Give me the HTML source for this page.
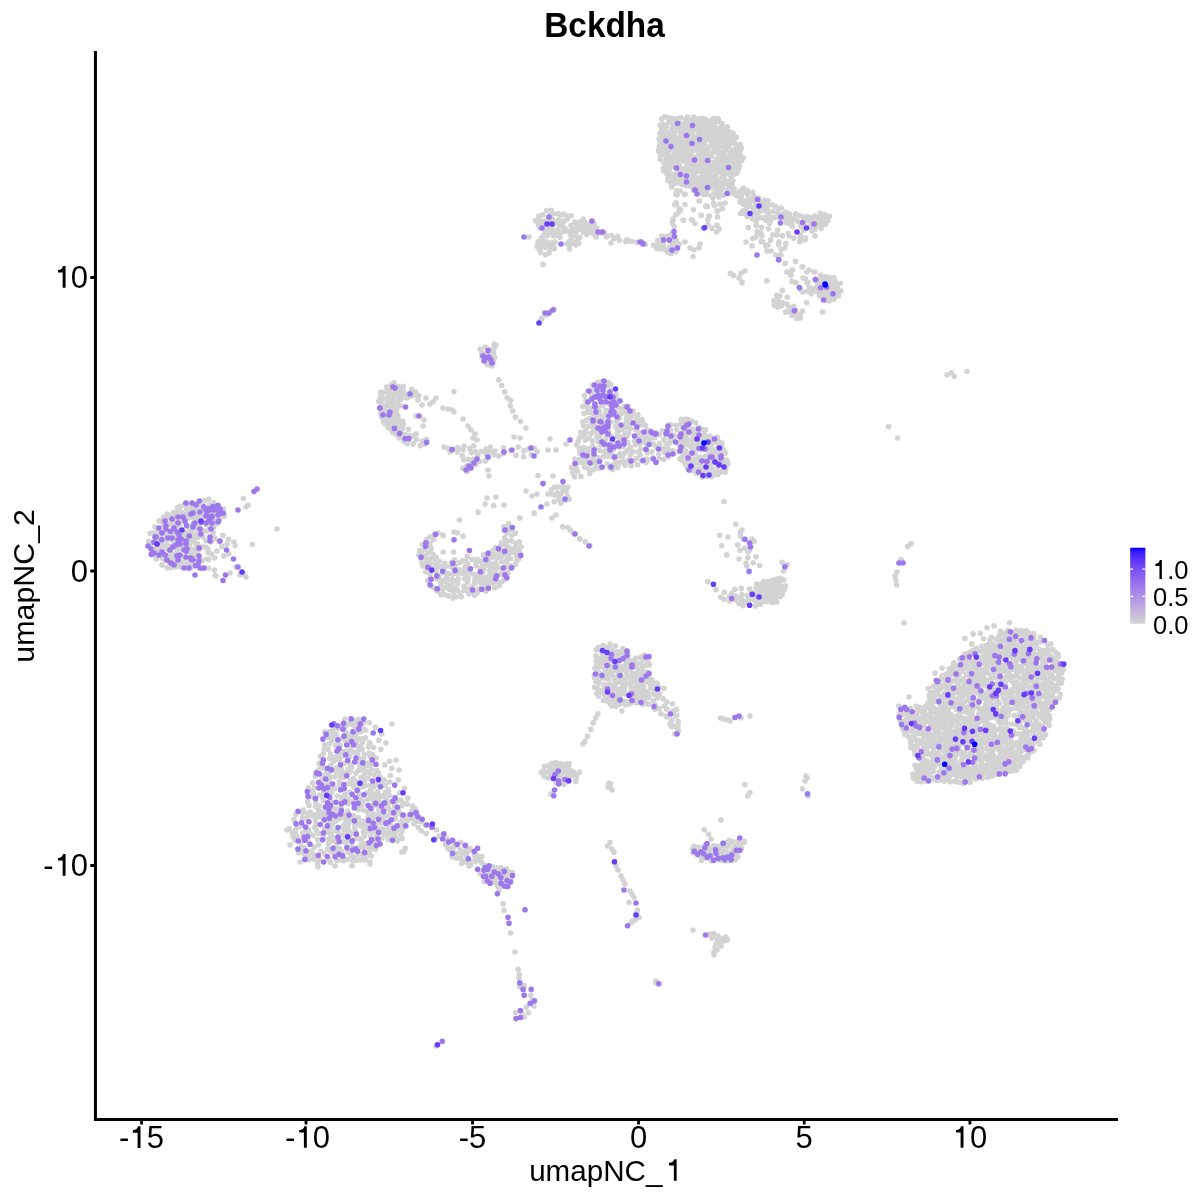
<!DOCTYPE html>
<html><head><meta charset="utf-8"><style>
html,body{margin:0;padding:0;background:#fff;width:1200px;height:1200px;overflow:hidden}
svg{display:block;will-change:transform}
text{font-family:"Liberation Sans",sans-serif;fill:#000}
</style></head><body>
<svg width="1200" height="1200" viewBox="0 0 1200 1200">
<defs><linearGradient id="lg" x1="0" y1="1" x2="0" y2="0"><stop offset="0.000" stop-color="#d3d3d3"/><stop offset="0.050" stop-color="#cfcad6"/><stop offset="0.100" stop-color="#cac0d9"/><stop offset="0.150" stop-color="#c6b7db"/><stop offset="0.200" stop-color="#c1aede"/><stop offset="0.250" stop-color="#bba5e0"/><stop offset="0.300" stop-color="#b69ce3"/><stop offset="0.350" stop-color="#b093e5"/><stop offset="0.400" stop-color="#aa89e7"/><stop offset="0.450" stop-color="#a480ea"/><stop offset="0.500" stop-color="#9d77ec"/><stop offset="0.550" stop-color="#966eee"/><stop offset="0.600" stop-color="#8e65f0"/><stop offset="0.650" stop-color="#855bf2"/><stop offset="0.700" stop-color="#7c51f4"/><stop offset="0.750" stop-color="#7248f6"/><stop offset="0.800" stop-color="#673df8"/><stop offset="0.850" stop-color="#5932fa"/><stop offset="0.900" stop-color="#4926fb"/><stop offset="0.950" stop-color="#3318fd"/><stop offset="1.000" stop-color="#0000ff"/></linearGradient></defs>
<g fill="none" stroke-linecap="round" stroke-width="5.6"><path stroke="#d3d3d3" d="M729.0 140.4h0M689.7 131.5h0M706.7 128.7h0M668.7 151.8h0M705.6 145.2h0M701.3 127.6h0M719.8 131.1h0M687.4 117.0h0M732.9 180.5h0M673.4 123.5h0M693.6 190.3h0M707.7 177.6h0M678.0 159.5h0M719.0 185.1h0M727.4 134.7h0M733.1 133.4h0M727.0 162.2h0M674.0 165.0h0M661.6 129.0h0M670.9 134.5h0M685.8 119.2h0M719.2 121.7h0M725.8 180.7h0M689.6 172.7h0M723.5 155.9h0M663.3 168.2h0M686.0 166.9h0M675.3 180.4h0M718.1 162.3h0M664.9 129.0h0M672.1 139.5h0M704.2 159.2h0M700.7 130.7h0M710.2 182.9h0M666.2 157.9h0M692.9 182.2h0M740.1 150.4h0M660.3 143.1h0M692.0 130.1h0M716.5 159.1h0M679.4 150.1h0M717.5 142.6h0M663.8 154.1h0M674.8 167.8h0M675.4 126.5h0M734.9 143.1h0M683.1 160.8h0M717.6 172.0h0M694.7 145.9h0M702.4 163.8h0M712.1 120.8h0M717.0 149.2h0M696.6 137.5h0M680.8 117.5h0M716.1 168.2h0M709.8 131.0h0M664.5 140.6h0M726.1 144.0h0M705.3 170.9h0M693.3 159.5h0M724.9 127.9h0M693.7 117.1h0M715.0 188.8h0M688.4 184.4h0M698.4 118.9h0M684.9 183.1h0M668.8 163.1h0M662.9 124.3h0M684.6 133.4h0M663.1 133.7h0M677.1 178.3h0M735.4 162.1h0M738.1 169.4h0M671.7 177.2h0M724.1 162.6h0M668.5 137.5h0M677.4 146.5h0M732.4 192.7h0M667.3 117.6h0M689.6 149.0h0M741.4 147.7h0M726.6 168.5h0M702.4 176.2h0M735.3 174.0h0M660.4 148.8h0M676.5 162.7h0M679.5 122.8h0M706.5 182.1h0M669.0 166.8h0M684.4 139.3h0M713.6 176.9h0M743.2 157.7h0M694.3 174.8h0M680.9 141.8h0M693.5 148.4h0M666.0 148.1h0M677.8 167.8h0M716.4 192.6h0M691.3 141.5h0M711.9 141.9h0M661.4 135.8h0M709.6 153.9h0M669.8 180.2h0M706.8 191.5h0M722.9 134.6h0M701.7 156.8h0M729.2 165.6h0M717.0 179.1h0M663.5 171.0h0M708.5 170.5h0M710.9 195.7h0M713.2 135.0h0M666.6 173.2h0M670.1 131.7h0M670.0 118.0h0M690.5 164.3h0M700.3 123.9h0M722.3 178.0h0M687.4 133.0h0M674.8 143.2h0M698.6 161.9h0M705.9 126.2h0M680.0 174.7h0M702.5 146.3h0M713.1 129.4h0M727.1 130.7h0M715.0 164.9h0M726.5 150.0h0M696.6 125.3h0M680.2 126.2h0M702.8 183.5h0M721.8 169.2h0M727.1 172.1h0M726.0 165.1h0M680.6 146.8h0M698.8 165.0h0M688.1 158.1h0M726.3 184.0h0M669.4 169.6h0M736.3 137.2h0M710.3 134.1h0M713.7 123.5h0M696.2 120.9h0M686.2 154.9h0M703.0 187.5h0M693.3 127.3h0M716.9 145.4h0M738.4 148.2h0M740.5 155.6h0M728.8 146.3h0M678.6 137.8h0M660.1 125.3h0M674.2 149.7h0M694.2 143.2h0M691.5 138.2h0M719.3 194.3h0M736.0 146.1h0M714.4 184.0h0M702.5 151.9h0M672.2 128.1h0M738.9 163.2h0M693.4 185.9h0M707.2 122.6h0M721.0 163.8h0M716.7 152.2h0M685.3 144.0h0M731.2 177.6h0M723.0 195.2h0M718.9 196.9h0M666.5 126.4h0M668.5 175.4h0M686.2 151.9h0M714.2 144.7h0M691.2 151.3h0M713.2 162.3h0M687.3 181.4h0M680.8 156.4h0M727.7 190.0h0M709.1 180.3h0M685.9 185.7h0M708.6 162.2h0M675.3 174.1h0M734.2 188.8h0M735.8 154.8h0M728.5 193.4h0M706.8 150.7h0M706.0 194.2h0M714.3 149.0h0M716.1 121.1h0M658.5 150.9h0M664.1 163.0h0M682.3 123.7h0M703.9 122.8h0M719.7 166.5h0M691.2 157.7h0M722.8 186.4h0M667.9 178.4h0M664.4 116.8h0M698.5 184.7h0M737.0 151.0h0M696.2 141.4h0M731.2 136.4h0M681.8 138.1h0M718.1 182.0h0M665.5 137.0h0M703.9 142.3h0M722.9 145.6h0M679.4 164.7h0M696.1 168.9h0M688.9 175.3h0M721.7 158.7h0M718.4 140.1h0M669.4 141.1h0M695.6 150.3h0M730.1 132.4h0M702.0 137.7h0M712.4 171.3h0M725.6 157.5h0M680.7 132.9h0M722.7 131.2h0M705.4 119.2h0M684.5 157.4h0M672.8 118.6h0M696.0 172.1h0M708.9 167.0h0M714.6 137.3h0M732.8 140.0h0M721.9 123.6h0M732.2 184.5h0M670.8 148.4h0M689.2 122.0h0M688.2 127.5h0M681.7 184.2h0M731.3 170.2h0M737.6 195.9h0M674.5 133.4h0M724.2 152.5h0M681.2 181.6h0M667.0 143.3h0M729.4 187.0h0M661.7 118.9h0M675.2 159.4h0M685.1 147.7h0M676.9 151.8h0M676.4 119.0h0M683.3 175.9h0M701.0 120.8h0M701.1 143.8h0M691.6 174.9h0M703.3 190.7h0M680.9 153.4h0M733.0 150.1h0M703.0 132.7h0M686.2 141.4h0M732.0 155.8h0M664.4 145.0h0M668.7 122.5h0M721.3 172.7h0M704.9 148.8h0M697.8 155.9h0M702.5 118.3h0M667.6 134.9h0M733.6 152.7h0M707.4 132.2h0M660.5 159.2h0M674.3 154.5h0M676.3 156.7h0M704.8 138.4h0M699.7 177.5h0M739.5 166.3h0M705.3 184.8h0M696.4 186.7h0M695.8 129.5h0M718.1 118.9h0M721.7 141.6h0M665.7 169.3h0M733.6 166.9h0M698.3 149.1h0M736.2 165.2h0M725.2 138.9h0M730.6 143.1h0M695.7 181.4h0M702.7 173.3h0M695.6 178.2h0M716.4 175.8h0M701.4 140.4h0M714.6 126.4h0M663.2 131.1h0M712.0 174.3h0M707.2 135.5h0M694.2 164.1h0M691.0 155.0h0M707.1 174.7h0M706.3 156.5h0M671.0 174.4h0M698.7 192.1h0M699.1 171.2h0M718.0 190.2h0M666.4 153.7h0M685.5 122.9h0M708.0 139.5h0M672.4 160.7h0M689.6 170.0h0M721.9 189.2h0M681.5 169.1h0M719.4 128.3h0M663.9 150.0h0M698.6 188.7h0M668.8 154.8h0M709.2 120.7h0M737.4 172.4h0M720.2 191.8h0M709.2 126.6h0M692.4 162.2h0M732.9 160.3h0M729.6 174.6h0M701.0 180.3h0M696.5 190.7h0M718.6 154.5h0M693.0 171.4h0M724.2 175.6h0M660.6 155.8h0M713.6 168.9h0M687.4 136.8h0M737.3 158.6h0M719.6 135.3h0M676.1 138.7h0M729.1 181.9h0M682.4 130.0h0M698.4 143.5h0M713.9 193.5h0M690.0 167.2h0M701.2 160.3h0M673.4 137.2h0M680.0 177.4h0M703.1 167.9h0M692.0 179.2h0M685.3 129.4h0M689.6 145.0h0M712.1 166.4h0M687.0 161.7h0M712.4 186.6h0M708.2 148.0h0M732.7 174.4h0M722.1 127.1h0M698.5 146.2h0M692.1 123.5h0M710.8 137.6h0M725.1 147.9h0M660.1 133.3h0M683.4 152.1h0M682.4 135.2h0M707.0 164.5h0M669.8 144.8h0M704.9 162.0h0M713.4 118.5h0M672.2 156.3h0M659.2 138.8h0M677.8 130.2h0M713.0 197.8h0M686.8 177.7h0M675.7 183.3h0M685.2 126.7h0M669.0 157.7h0M728.2 137.5h0M713.0 151.7h0M691.9 119.4h0M740.1 144.5h0M686.2 172.3h0M705.3 188.9h0M699.9 154.3h0M715.3 132.0h0M692.4 134.1h0M728.8 158.7h0M690.7 185.9h0M729.4 156.1h0M734.4 169.4h0M679.2 170.3h0M732.1 163.8h0M666.8 165.2h0M711.4 156.2h0M721.5 139.0h0M734.9 194.5h0M730.2 152.2h0M689.5 178.5h0M741.6 160.7h0M731.2 189.6h0M721.3 152.3h0M695.5 161.4h0M719.4 147.1h0M711.3 145.9h0M695.6 157.4h0M712.5 181.0h0M690.0 181.4h0M699.9 167.6h0M703.5 179.4h0M693.5 167.6h0M705.3 153.4h0M678.6 144.1h0M724.2 171.3h0M673.1 183.6h0M708.8 157.9h0M665.8 132.4h0M684.0 178.6h0M703.0 194.4h0M659.3 146.3h0M698.4 134.4h0M727.4 126.8h0M709.6 187.9h0M722.4 166.4h0M674.4 121.0h0M714.4 140.1h0M684.4 169.1h0M678.1 182.0h0M722.9 182.7h0M673.3 146.2h0M660.6 152.5h0M704.3 135.7h0M716.4 129.5h0M763.1 204.2h0M784.6 218.6h0M767.3 208.0h0M759.3 218.1h0M754.0 195.8h0M747.5 194.2h0M748.9 198.5h0M781.2 208.0h0M767.9 200.7h0M737.5 193.5h0M775.5 206.3h0M779.7 218.0h0M747.4 190.6h0M774.2 217.6h0M747.2 216.6h0M757.9 207.4h0M745.3 201.2h0M760.6 201.2h0M742.8 211.0h0M748.7 206.3h0M741.7 194.3h0M759.0 211.9h0M785.6 212.1h0M743.1 188.0h0M751.6 215.1h0M742.0 198.7h0M772.3 204.7h0M753.3 211.7h0M778.3 209.1h0M748.8 213.2h0M756.2 220.8h0M743.3 204.2h0M767.7 204.5h0M754.9 200.9h0M758.6 198.0h0M744.7 213.6h0M755.8 205.0h0M746.3 209.1h0M752.7 219.0h0M764.8 200.3h0M762.4 217.8h0M739.2 196.9h0M765.9 220.3h0M749.6 202.9h0M772.8 211.3h0M757.4 215.3h0M769.7 216.6h0M752.7 192.2h0M763.5 207.3h0M768.0 212.7h0M753.4 207.3h0M740.5 213.5h0M766.2 217.3h0M743.8 191.8h0M777.5 213.6h0M763.7 210.6h0M770.2 221.3h0M782.3 214.2h0M740.2 202.0h0M752.7 198.6h0M739.9 191.1h0M787.1 219.4h0M807.7 216.6h0M789.6 213.9h0M799.6 215.8h0M822.5 220.0h0M821.1 228.3h0M788.2 223.2h0M800.5 226.3h0M808.2 220.8h0M794.5 218.7h0M803.7 220.7h0M795.6 214.1h0M813.1 222.4h0M825.6 224.1h0M804.5 225.7h0M803.6 217.0h0M792.1 225.9h0M797.5 221.4h0M814.9 229.6h0M816.6 224.5h0M811.5 217.9h0M803.5 229.9h0M826.7 217.7h0M822.0 216.4h0M785.8 213.6h0M791.7 221.9h0M810.7 226.2h0M790.7 218.1h0M680.0 191.0h0M677.0 195.0h0M685.0 194.0h0M676.5 204.0h0M685.0 204.5h0M699.0 201.0h0M706.0 206.0h0M713.5 203.0h0M718.0 211.0h0M709.0 216.0h0M678.0 213.0h0M673.0 219.0h0M683.0 220.0h0M691.5 219.5h0M720.0 204.0h0M725.0 203.0h0M746.0 242.0h0M752.0 246.0h0M756.0 237.0h0M761.0 233.0h0M763.0 242.0h0M768.0 245.0h0M767.0 251.0h0M771.0 251.0h0M776.0 255.0h0M781.0 255.0h0M778.5 244.5h0M785.0 248.0h0M777.0 235.0h0M785.0 263.5h0M795.5 261.5h0M802.0 267.0h0M809.0 270.0h0M814.0 272.0h0M787.0 272.0h0M792.0 270.0h0M791.0 275.0h0M803.0 278.0h0M808.0 282.0h0M794.0 282.0h0M767.0 281.0h0M745.0 271.0h0M742.0 282.0h0M789.0 236.0h0M800.0 238.0h0M805.0 240.0h0M815.0 236.0h0M812.0 231.0h0M829.1 291.0h0M833.8 277.8h0M837.2 289.0h0M826.1 282.4h0M820.5 275.4h0M824.5 295.1h0M816.5 291.5h0M836.8 293.5h0M830.5 285.6h0M817.4 286.2h0M821.9 293.0h0M829.3 301.0h0M824.8 276.7h0M826.3 300.2h0M831.7 288.9h0M832.3 295.5h0M825.4 285.4h0M840.9 291.0h0M827.1 288.2h0M828.5 294.7h0M819.4 295.7h0M834.0 283.8h0M840.3 283.3h0M820.7 284.1h0M819.6 289.1h0M836.1 286.3h0M823.1 298.2h0M817.5 282.3h0M830.6 282.2h0M834.5 297.9h0M833.6 291.3h0M823.8 289.6h0M828.8 277.2h0M828.6 280.1h0M833.8 280.9h0M838.6 295.7h0M820.1 279.8h0M807.3 291.3h0M813.0 288.6h0M815.4 291.3h0M802.7 292.1h0M809.2 287.1h0M811.2 293.6h0M800.7 289.2h0M777.7 307.2h0M779.8 296.1h0M800.4 314.0h0M785.7 311.9h0M792.2 315.4h0M792.4 310.3h0M781.3 306.0h0M774.3 305.4h0M789.5 307.5h0M778.2 300.4h0M782.4 302.5h0M797.0 318.5h0M796.2 315.2h0M787.0 304.4h0M789.7 312.0h0M774.1 300.9h0M802.4 311.1h0M795.8 309.8h0M776.6 295.4h0M777.1 303.4h0M793.7 306.3h0M800.2 317.9h0M730.4 273.4h0M733.5 275.4h0M739.1 277.9h0M741.0 273.2h0M742.0 282.7h0M766.7 280.7h0M782.4 290.4h0M787.3 297.3h0M806.7 302.7h0M822.7 312.0h0M786.7 272.0h0M792.7 270.0h0M790.7 275.3h0M792.0 281.3h0M796.0 282.7h0M795.3 261.3h0M785.3 263.3h0M802.7 266.7h0M806.7 272.0h0M814.7 272.0h0M805.3 278.7h0M807.3 282.7h0M810.7 290.7h0M667.9 180.6h0M671.2 185.0h0M671.8 187.0h0M676.8 191.0h0M675.9 194.3h0M676.6 194.7h0M676.1 202.7h0M674.8 204.7h0M679.3 208.5h0M680.6 209.9h0M675.8 214.7h0M673.2 219.8h0M672.3 223.1h0M674.1 226.5h0M668.6 240.1h0M675.7 251.7h0M659.0 244.5h0M653.6 245.1h0M674.2 244.8h0M661.7 236.0h0M657.7 240.6h0M668.0 252.3h0M666.5 236.4h0M665.4 249.8h0M676.1 240.2h0M673.1 249.1h0M663.2 243.1h0M671.2 234.2h0M663.6 246.6h0M669.7 247.3h0M671.0 253.6h0M677.1 248.7h0M674.2 237.2h0M663.7 238.9h0M679.4 244.0h0M660.9 249.0h0M670.8 242.6h0M656.8 248.2h0M685.0 242.0h0M690.0 248.0h0M694.0 250.0h0M700.0 244.0h0M699.0 248.0h0M693.0 256.5h0M684.5 194.5h0M685.0 204.5h0M683.5 220.5h0M692.0 220.0h0M709.5 216.0h0M708.0 225.0h0M699.5 201.0h0M706.0 206.5h0M713.5 203.0h0M717.0 211.0h0M717.0 225.0h0M716.5 232.0h0M602.4 232.2h0M604.5 232.9h0M606.7 235.7h0M611.7 235.6h0M613.9 238.8h0M617.7 236.4h0M619.5 240.2h0M625.7 241.6h0M626.9 239.5h0M628.2 240.7h0M631.6 241.3h0M636.9 242.3h0M641.8 242.7h0M645.3 244.2h0M611.0 243.0h0M551.1 210.2h0M550.6 225.8h0M567.2 216.0h0M545.6 224.3h0M553.2 214.0h0M580.5 221.8h0M563.6 231.5h0M593.7 234.2h0M554.9 241.8h0M557.8 229.7h0M543.7 235.4h0M538.8 216.3h0M546.7 210.5h0M575.8 245.0h0M545.7 247.4h0M542.3 225.3h0M552.0 229.2h0M549.8 232.2h0M574.9 221.7h0M569.5 248.9h0M576.2 231.6h0M567.2 218.9h0M548.4 217.9h0M558.5 220.0h0M591.1 223.2h0M576.2 228.2h0M589.7 232.6h0M548.6 246.1h0M540.7 252.6h0M545.8 254.8h0M564.0 221.0h0M571.2 215.7h0M553.0 244.8h0M585.3 222.8h0M592.4 229.1h0M606.3 236.7h0M549.8 242.8h0M556.3 234.9h0M569.4 241.4h0M587.7 224.6h0M580.5 226.5h0M583.5 232.2h0M540.9 247.4h0M600.6 232.8h0M547.6 229.6h0M560.1 232.9h0M583.3 219.1h0M553.3 236.0h0M554.0 224.6h0M596.3 236.9h0M542.0 240.8h0M544.3 221.0h0M572.0 229.3h0M545.2 241.3h0M541.3 237.7h0M547.4 235.6h0M577.9 239.3h0M542.9 214.7h0M535.4 220.6h0M558.1 213.6h0M586.2 229.5h0M577.0 224.5h0M538.3 224.6h0M541.0 221.1h0M554.3 248.6h0M578.8 242.9h0M559.6 224.4h0M570.6 235.2h0M563.9 214.1h0M571.0 225.6h0M537.1 246.4h0M569.7 244.7h0M597.6 232.7h0M562.7 223.6h0M567.9 231.5h0M596.7 228.4h0M586.7 234.6h0M545.0 232.0h0M539.8 227.9h0M594.1 224.0h0M571.8 238.9h0M603.8 232.4h0M579.8 237.2h0M549.1 252.9h0M589.3 227.6h0M573.3 242.6h0M550.0 215.2h0M559.9 237.2h0M539.4 249.8h0M556.6 222.2h0M560.9 214.9h0M575.1 235.0h0M550.2 221.8h0M566.9 243.8h0M552.3 219.3h0M571.5 232.5h0M550.9 248.7h0M565.0 228.7h0M538.0 241.9h0M583.5 226.8h0M552.9 232.7h0M544.6 244.6h0M581.0 229.3h0M540.4 244.0h0M562.8 226.8h0M543.0 264.4h0M529.0 237.0h0M485.6 354.8h0M494.1 348.6h0M491.0 358.9h0M485.7 361.1h0M489.8 353.5h0M485.3 347.1h0M494.2 344.4h0M490.9 365.4h0M489.3 349.3h0M481.8 352.9h0M493.5 352.8h0M481.9 356.7h0M494.7 357.4h0M487.3 364.4h0M493.6 362.2h0M480.0 349.0h0M494.0 345.0h0M496.0 345.0h0M492.0 366.0h0M398.6 424.1h0M378.8 401.5h0M382.0 412.2h0M408.2 438.9h0M383.9 406.2h0M416.5 439.5h0M390.6 386.7h0M394.0 420.6h0M415.7 392.0h0M387.9 427.5h0M385.3 392.0h0M387.5 411.7h0M387.5 415.1h0M381.3 396.1h0M399.4 437.9h0M402.2 428.4h0M426.5 439.5h0M397.7 402.6h0M393.3 401.9h0M409.9 435.5h0M422.4 441.3h0M418.7 395.7h0M393.4 411.6h0M399.6 395.5h0M403.4 424.5h0M410.1 393.1h0M403.2 386.2h0M385.4 424.0h0M397.9 415.7h0M413.1 443.9h0M407.2 443.8h0M401.2 399.1h0M406.8 398.0h0M396.8 434.3h0M416.1 433.7h0M388.5 401.9h0M394.2 426.9h0M390.2 423.3h0M402.8 390.2h0M386.7 387.0h0M382.4 399.3h0M404.6 393.5h0M400.7 406.0h0M396.6 409.4h0M392.5 392.1h0M405.4 434.9h0M410.2 396.5h0M398.5 420.0h0M394.7 389.5h0M397.8 428.9h0M398.1 388.2h0M393.6 397.5h0M402.7 421.2h0M408.3 429.4h0M420.2 445.6h0M393.9 382.7h0M413.5 435.8h0M404.1 441.4h0M411.8 389.4h0M379.9 407.8h0M401.7 434.0h0M424.6 443.9h0M391.6 430.4h0M380.5 392.4h0M389.7 394.2h0M414.1 395.5h0M397.2 393.0h0M389.1 398.1h0M393.1 417.3h0M418.0 400.0h0M422.0 405.0h0M424.0 420.0h0M423.0 426.0h0M416.0 416.0h0M426.0 398.0h0M436.0 398.0h0M430.0 404.0h0M443.0 408.0h0M452.0 410.0h0M454.0 412.0h0M463.0 419.0h0M468.0 426.0h0M471.0 430.0h0M475.0 434.0h0M473.0 438.0h0M477.0 440.0h0M454.0 391.6h0M433.0 402.0h0M448.0 409.0h0M498.7 379.9h0M501.7 385.5h0M504.7 391.7h0M507.2 397.7h0M510.8 400.5h0M510.3 405.8h0M512.8 411.0h0M515.4 417.1h0M520.5 421.6h0M526.0 428.0h0M514.0 437.0h0M520.0 438.0h0M462.9 468.3h0M528.2 449.0h0M503.6 447.7h0M537.1 451.7h0M488.2 457.6h0M531.4 454.7h0M510.6 450.6h0M457.6 451.9h0M468.4 459.4h0M495.0 451.1h0M490.4 447.1h0M477.8 455.4h0M490.0 451.8h0M462.4 455.8h0M470.0 448.2h0M450.0 452.0h0M486.1 453.5h0M534.4 448.3h0M485.3 461.0h0M463.0 449.7h0M503.3 453.6h0M523.6 450.9h0M457.8 447.6h0M473.2 459.2h0M472.2 463.3h0M516.0 455.3h0M523.6 456.8h0M479.4 461.3h0M467.3 471.5h0M453.0 449.3h0M473.7 445.7h0M475.8 464.4h0M498.9 456.1h0M448.1 448.3h0M494.3 455.0h0M475.6 451.7h0M518.3 447.1h0M466.6 465.9h0M463.8 459.7h0M481.3 451.5h0M486.1 449.0h0M471.4 452.6h0M488.0 470.0h0M489.0 476.0h0M444.0 447.0h0M464.0 446.0h0M550.0 439.0h0M548.0 450.0h0M556.0 450.0h0M538.0 475.6h0M553.0 476.0h0M526.0 491.0h0M532.0 496.0h0M537.0 494.0h0M548.0 494.0h0M534.0 513.0h0M547.0 504.0h0M520.0 518.0h0M552.0 518.0h0M556.0 515.0h0M487.0 498.0h0M496.0 497.0h0M485.0 504.0h0M493.6 505.6h0M504.0 505.0h0M478.0 512.0h0M459.6 520.0h0M457.0 533.0h0M463.0 536.0h0M443.0 535.0h0M454.0 532.0h0M566.3 491.2h0M551.4 489.8h0M559.2 500.6h0M565.5 500.2h0M557.3 492.9h0M554.5 487.2h0M554.5 495.0h0M560.8 494.5h0M562.7 486.8h0M569.1 499.1h0M551.1 494.0h0M558.6 496.9h0M561.0 503.3h0M567.9 487.0h0M554.2 501.8h0M567.4 496.2h0M557.8 487.1h0M562.9 490.1h0M562.9 526.9h0M568.3 527.6h0M570.3 530.2h0M573.8 533.3h0M579.7 538.9h0M585.2 541.8h0M590.0 545.6h0M436.0 560.5h0M429.3 559.0h0M433.7 539.5h0M421.9 562.8h0M418.8 555.0h0M433.5 554.9h0M422.3 554.6h0M424.9 556.6h0M427.1 561.4h0M426.3 545.2h0M430.7 552.1h0M427.9 553.1h0M431.1 548.2h0M439.3 561.2h0M430.2 536.8h0M419.8 550.6h0M421.3 558.3h0M426.8 539.3h0M432.5 557.7h0M437.8 533.0h0M424.6 549.3h0M422.9 565.9h0M422.5 544.5h0M427.5 564.7h0M429.9 543.6h0M434.8 533.9h0M436.1 557.4h0M431.1 563.9h0M508.9 552.3h0M495.6 569.9h0M471.6 590.6h0M431.7 579.3h0M483.6 578.7h0M462.3 573.5h0M457.7 584.0h0M455.8 596.7h0M495.9 574.7h0M492.9 550.6h0M501.5 542.5h0M481.4 561.2h0M437.2 578.9h0M488.8 584.8h0M508.8 547.2h0M481.9 583.7h0M448.4 595.8h0M454.8 559.8h0M451.3 579.7h0M427.5 580.6h0M475.9 566.0h0M515.6 547.2h0M477.1 559.5h0M477.2 592.8h0M438.7 576.1h0M467.3 556.4h0M434.9 588.7h0M430.0 575.2h0M507.1 540.7h0M450.8 566.3h0M471.5 587.2h0M436.2 570.8h0M511.0 529.8h0M482.2 589.6h0M446.5 582.0h0M458.7 569.9h0M440.8 566.8h0M472.1 559.2h0M505.0 573.7h0M447.3 584.9h0M478.5 588.9h0M486.1 558.0h0M467.6 564.0h0M501.6 568.7h0M457.3 573.8h0M458.5 579.1h0M496.6 581.8h0M428.4 569.4h0M489.5 571.3h0M510.4 558.7h0M465.6 561.0h0M501.8 561.7h0M433.5 569.3h0M425.7 571.7h0M430.1 572.1h0M501.3 573.9h0M485.9 586.7h0M510.6 565.7h0M488.0 561.1h0M470.4 572.6h0M506.9 576.7h0M499.5 585.4h0M440.1 579.7h0M464.5 590.6h0M502.0 581.5h0M509.5 568.5h0M506.1 544.6h0M468.0 578.4h0M506.7 559.7h0M462.5 560.9h0M478.1 574.1h0M498.8 549.4h0M446.5 577.4h0M509.2 527.0h0M504.6 537.8h0M519.4 541.8h0M492.9 574.1h0M489.9 552.9h0M516.7 556.6h0M506.9 532.7h0M511.4 541.0h0M452.9 597.9h0M512.3 552.5h0M465.7 566.5h0M495.7 547.6h0M520.3 553.0h0M464.1 569.2h0M515.5 533.1h0M453.4 591.9h0M516.3 561.1h0M437.4 591.3h0M485.6 565.6h0M443.6 572.7h0M507.9 572.7h0M494.0 555.0h0M459.6 562.8h0M505.2 550.0h0M478.7 578.7h0M483.4 554.9h0M482.9 572.0h0M473.8 574.7h0M440.7 584.2h0M448.5 573.5h0M507.1 564.2h0M492.2 564.2h0M440.9 594.8h0M496.3 557.8h0M503.8 526.7h0M455.3 566.0h0M515.8 543.4h0M468.9 594.0h0M464.7 578.7h0M492.6 582.6h0M490.3 580.4h0M500.7 558.2h0M463.9 586.2h0M497.1 554.9h0M454.5 580.8h0M494.8 587.7h0M444.1 569.4h0M484.0 568.5h0M442.4 589.5h0M451.7 585.2h0M505.1 566.7h0M457.5 590.3h0M474.2 583.7h0M508.3 556.5h0M432.2 586.6h0M508.6 523.6h0M426.0 566.6h0M454.8 588.5h0M453.8 569.0h0M476.3 576.6h0M502.7 554.8h0M504.5 579.3h0M461.3 596.8h0M495.6 562.8h0M474.6 595.2h0M518.4 549.1h0M515.6 564.2h0M486.0 591.1h0M486.6 581.8h0M451.4 562.5h0M511.8 535.5h0M444.1 594.3h0M474.8 580.0h0M445.4 566.5h0M491.2 557.6h0M500.5 552.1h0M435.1 564.3h0M490.7 576.3h0M466.5 573.5h0M512.4 549.1h0M449.5 589.5h0M489.5 566.3h0M500.8 545.7h0M516.8 552.9h0M480.3 568.1h0M452.6 574.6h0M443.7 580.6h0M477.9 581.7h0M497.7 566.9h0M467.2 588.7h0M482.5 564.7h0M487.0 576.7h0M518.9 558.8h0M460.0 592.6h0M444.6 587.3h0M481.4 575.2h0M494.0 567.4h0M468.6 569.8h0M521.1 546.8h0M476.4 562.8h0M467.4 582.5h0M444.9 563.3h0M437.3 566.3h0M504.2 530.2h0M443.2 535.7h0M443.2 552.0h0M453.7 552.0h0M457.2 532.8h0M463.0 536.3h0M459.5 520.0h0M478.2 512.3h0M519.6 517.9h0M534.2 513.5h0M638.3 452.1h0M619.9 447.3h0M608.7 431.0h0M643.6 441.7h0M584.4 395.6h0M635.5 429.5h0M610.2 390.8h0M606.5 422.8h0M582.9 422.1h0M597.9 382.4h0M600.2 427.3h0M617.4 433.0h0M637.7 436.0h0M608.3 382.5h0M579.3 447.9h0M593.7 452.3h0M592.3 441.0h0M600.5 445.0h0M643.2 423.0h0M595.2 423.2h0M622.1 457.5h0M639.1 439.2h0M625.3 433.4h0M605.0 441.3h0M586.0 429.5h0M598.1 407.5h0M613.7 449.3h0M604.2 444.8h0M640.5 449.1h0M616.0 394.2h0M630.1 447.0h0M627.0 436.3h0M611.0 384.8h0M587.2 412.3h0M599.4 411.6h0M590.9 408.3h0M629.9 462.8h0M616.6 463.5h0M601.3 398.3h0M607.8 426.8h0M627.2 415.2h0M641.7 460.7h0M590.8 463.5h0M598.0 457.5h0M589.4 438.1h0M629.3 424.3h0M603.7 451.7h0M625.5 427.2h0M591.7 459.9h0M584.5 467.2h0M635.3 445.0h0M584.1 458.9h0M585.4 440.1h0M601.8 384.9h0M603.4 456.8h0M647.3 430.3h0M617.2 429.6h0M602.3 381.4h0M587.2 462.0h0M606.5 436.8h0M588.6 469.0h0M646.7 445.5h0M614.3 405.5h0M602.7 431.0h0M601.9 390.7h0M611.7 436.3h0M620.0 438.8h0M606.7 448.1h0M617.8 467.4h0M580.1 459.2h0M602.9 405.8h0M621.6 413.2h0M633.7 422.6h0M599.8 433.5h0M576.1 468.4h0M591.2 433.2h0M602.4 467.5h0M596.9 437.2h0M591.0 399.4h0M625.6 411.0h0M637.7 464.7h0M646.2 435.2h0M609.7 404.2h0M598.7 461.8h0M615.5 426.4h0M642.1 419.5h0M584.5 436.8h0M616.4 421.2h0M624.3 406.6h0M632.8 451.5h0M620.2 453.9h0M591.4 424.4h0M613.5 415.1h0M636.5 458.5h0M605.9 393.1h0M612.7 445.4h0M597.3 386.9h0M618.6 407.7h0M574.6 476.7h0M599.7 450.5h0M608.5 452.5h0M611.5 456.8h0M630.3 418.4h0M616.4 398.8h0M586.4 404.5h0M599.6 415.7h0M595.1 415.6h0M589.9 418.4h0M619.2 418.2h0M643.1 436.3h0M613.7 411.6h0M606.5 410.2h0M605.3 413.9h0M588.2 426.3h0M591.4 412.6h0M626.2 422.4h0M576.5 444.6h0M615.4 459.9h0M627.8 442.2h0M626.3 418.6h0M638.5 432.0h0M592.4 385.3h0M571.4 467.7h0M599.0 468.4h0M601.6 423.2h0M627.2 450.6h0M602.6 394.8h0M630.2 428.6h0M591.5 394.4h0M633.2 411.0h0M619.9 400.6h0M637.9 414.8h0M640.4 424.9h0M646.1 459.1h0M647.4 452.8h0M594.5 404.0h0M630.6 454.8h0M587.8 391.0h0M616.8 413.8h0M621.6 409.3h0M592.7 446.1h0M582.3 462.2h0M607.3 463.8h0M578.2 441.2h0M586.3 420.2h0M583.0 452.3h0M610.7 422.1h0M598.9 394.3h0M639.9 443.6h0M596.2 397.2h0M577.5 471.5h0M598.1 441.3h0M586.0 400.7h0M588.0 448.7h0M628.0 406.1h0M623.3 446.3h0M593.5 428.5h0M572.4 473.1h0M607.8 455.9h0M640.3 455.1h0M603.6 427.7h0M602.8 417.8h0M624.3 461.5h0M622.7 436.6h0M619.0 443.9h0M611.7 453.4h0M625.0 465.3h0M587.3 407.8h0M620.5 462.6h0M596.3 432.2h0M631.3 465.8h0M637.5 422.9h0M604.2 401.7h0M634.5 441.0h0M585.7 432.9h0M593.6 469.6h0M645.5 425.5h0M587.9 452.4h0M612.7 465.3h0M621.4 429.8h0M580.7 432.4h0M649.9 440.2h0M596.1 466.3h0M643.5 432.7h0M637.0 419.1h0M611.9 441.1h0M617.6 436.4h0M581.0 476.4h0M595.4 448.8h0M646.0 462.6h0M612.5 469.6h0M583.9 447.6h0M617.6 456.1h0M578.2 462.8h0M594.4 462.1h0M607.9 417.6h0M595.3 419.9h0M624.4 453.4h0M589.7 473.4h0M633.6 460.8h0M582.8 406.6h0M579.8 453.1h0M583.8 425.7h0M593.4 456.9h0M609.8 467.7h0M593.4 390.5h0M607.5 385.9h0M600.2 437.8h0M612.2 399.1h0M584.0 413.5h0M646.0 439.1h0M646.1 449.0h0M615.8 443.3h0M608.0 396.3h0M629.0 459.5h0M628.8 433.1h0M632.2 415.3h0M579.4 437.9h0M664.0 459.2h0M652.0 451.8h0M659.5 434.8h0M654.6 437.8h0M658.8 454.2h0M679.9 458.7h0M670.4 424.6h0M672.7 450.6h0M649.9 438.3h0M670.5 430.4h0M662.7 448.4h0M677.4 443.1h0M678.9 451.6h0M656.0 432.3h0M663.9 439.6h0M673.6 435.4h0M664.7 452.3h0M669.8 443.1h0M650.5 430.8h0M676.8 429.7h0M656.6 447.3h0M652.9 457.8h0M647.9 459.7h0M662.4 430.8h0M669.6 452.9h0M679.9 446.3h0M675.9 425.2h0M678.7 436.0h0M659.6 443.2h0M659.1 458.8h0M667.6 448.4h0M669.9 437.9h0M667.8 433.5h0M653.7 444.3h0M673.5 439.6h0M665.9 443.1h0M668.8 456.8h0M711.7 476.7h0M703.6 473.1h0M697.0 431.6h0M698.8 435.8h0M717.3 471.8h0M712.4 469.5h0M703.8 458.9h0M711.9 462.9h0M724.9 463.9h0M688.2 428.7h0M685.9 436.7h0M717.9 457.2h0M721.5 453.8h0M698.2 441.5h0M704.6 468.7h0M703.6 445.2h0M715.6 449.4h0M709.3 454.0h0M705.4 429.9h0M690.0 465.0h0M690.8 433.2h0M686.3 454.9h0M687.9 419.3h0M706.7 471.1h0M685.3 443.8h0M685.9 451.3h0M689.2 457.7h0M706.9 438.4h0M706.3 464.6h0M707.8 445.0h0M709.6 459.6h0M727.9 463.9h0M681.0 423.9h0M710.2 447.4h0M720.7 471.9h0M697.7 462.6h0M680.4 442.3h0M682.4 426.9h0M705.6 456.1h0M715.0 441.6h0M693.3 429.1h0M715.1 462.5h0M695.6 422.8h0M681.1 419.3h0M700.6 466.2h0M726.9 460.2h0M714.8 474.2h0M689.6 462.2h0M715.0 456.2h0M691.6 421.0h0M712.4 449.9h0M690.5 441.0h0M699.0 444.8h0M688.0 422.5h0M683.1 447.6h0M684.6 462.1h0M721.6 447.3h0M681.3 433.8h0M688.2 425.7h0M717.1 437.3h0M721.2 462.8h0M693.3 435.8h0M717.6 475.0h0M682.3 452.1h0M705.4 449.0h0M691.4 459.5h0M695.6 449.0h0M690.3 453.2h0M685.4 432.7h0M687.7 467.7h0M704.3 434.7h0M709.7 474.0h0M689.2 445.8h0M692.0 470.4h0M693.1 444.5h0M713.0 453.5h0M721.8 443.0h0M702.3 477.1h0M684.1 439.6h0M709.3 441.6h0M717.5 466.6h0M718.5 453.0h0M701.2 438.9h0M723.4 459.4h0M725.9 468.6h0M723.5 449.9h0M712.4 438.3h0M707.0 476.2h0M695.1 454.4h0M683.0 455.7h0M693.7 464.0h0M700.5 470.8h0M691.6 447.5h0M705.2 441.8h0M710.8 466.9h0M692.6 438.9h0M684.4 424.5h0M725.2 471.9h0M725.6 452.9h0M701.5 442.7h0M684.9 419.4h0M700.1 457.0h0M709.4 436.0h0M708.7 450.7h0M712.3 443.5h0M717.8 440.4h0M721.1 456.7h0M701.1 461.3h0M684.5 429.4h0M693.9 433.0h0M694.5 441.3h0M696.5 473.3h0M687.1 439.4h0M695.5 437.6h0M698.9 427.3h0M698.5 459.7h0M695.1 469.3h0M718.4 460.0h0M682.0 460.2h0M697.9 468.7h0M701.9 449.8h0M682.4 444.4h0M714.2 459.2h0M702.1 429.6h0M718.2 446.1h0M696.0 446.0h0M695.5 459.1h0M681.8 437.4h0M685.8 464.8h0M566.0 444.0h0M575.0 459.0h0M580.0 461.0h0M724.0 501.5h0M156.3 559.0h0M175.4 541.4h0M193.8 534.3h0M195.7 528.3h0M162.1 520.3h0M181.0 555.7h0M162.0 551.5h0M184.6 546.4h0M174.4 531.2h0M173.6 561.8h0M159.7 549.5h0M187.1 518.3h0M167.0 549.1h0M157.7 530.0h0M192.3 507.0h0M195.4 509.7h0M224.3 516.1h0M180.3 548.8h0M166.5 539.6h0M186.6 508.4h0M189.0 568.7h0M177.1 516.1h0M156.0 551.9h0M213.6 506.0h0M177.6 544.4h0M179.9 542.2h0M176.4 562.6h0M155.6 538.7h0M202.7 505.8h0M173.7 524.6h0M206.7 525.0h0M190.2 542.8h0M191.1 562.5h0M220.3 508.2h0M202.6 509.7h0M192.6 525.1h0M185.1 537.5h0M169.4 562.4h0M170.5 551.3h0M177.4 528.9h0M202.1 516.7h0M170.7 546.5h0M161.3 532.6h0M194.0 542.0h0M148.6 541.6h0M171.5 535.3h0M167.5 523.9h0M164.9 529.1h0M167.1 567.8h0M167.1 544.8h0M180.3 535.1h0M169.1 554.8h0M192.8 504.0h0M189.9 552.1h0M197.3 533.9h0M171.9 564.3h0M187.0 532.5h0M197.4 503.1h0M162.4 558.1h0M191.6 567.0h0M154.9 526.7h0M173.8 521.2h0M217.6 509.8h0M176.8 551.9h0M216.8 505.5h0M194.0 518.8h0M195.7 513.2h0M156.9 548.0h0M157.4 543.5h0M199.2 506.7h0M151.8 548.7h0M209.2 505.1h0M219.9 517.8h0M153.3 533.0h0M170.8 567.8h0M185.3 521.0h0M219.7 511.8h0M175.5 567.1h0M191.1 532.5h0M194.9 551.8h0M191.4 555.3h0M198.2 524.7h0M179.8 566.4h0M181.3 522.1h0M198.2 563.2h0M194.7 557.9h0M170.7 524.4h0M183.7 533.5h0M185.1 558.5h0M171.7 519.0h0M198.8 512.4h0M198.1 515.3h0M189.2 527.6h0M161.6 555.3h0M188.1 513.7h0M181.9 516.4h0M184.2 504.6h0M162.3 546.4h0M159.1 520.9h0M150.0 533.3h0M172.4 555.0h0M187.7 505.1h0M149.9 546.3h0M171.9 540.2h0M206.0 514.9h0M192.9 514.5h0M191.0 516.9h0M203.2 530.3h0M209.4 521.4h0M158.2 555.6h0M163.6 535.4h0M198.4 518.8h0M178.9 558.5h0M163.9 517.0h0M168.5 517.3h0M192.4 528.7h0M177.6 507.5h0M179.3 531.9h0M214.7 513.3h0M197.5 537.4h0M208.6 499.2h0M161.7 543.4h0M181.8 562.8h0M166.8 531.7h0M156.7 532.9h0M163.5 524.8h0M213.5 502.8h0M183.0 543.2h0M176.0 547.8h0M165.3 559.9h0M187.4 539.7h0M158.4 539.6h0M189.8 547.3h0M154.6 554.9h0M209.6 527.0h0M192.4 549.8h0M172.5 515.3h0M199.3 527.9h0M179.6 524.8h0M178.1 520.0h0M195.2 522.0h0M177.4 512.3h0M215.5 520.5h0M173.7 512.2h0M212.2 511.4h0M196.5 547.4h0M187.1 543.6h0M223.4 509.0h0M187.1 563.6h0M204.6 500.6h0M167.3 535.6h0M206.5 517.8h0M190.3 539.1h0M176.7 536.9h0M160.2 535.8h0M162.1 564.9h0M180.4 538.5h0M190.4 511.9h0M167.3 514.0h0M181.3 512.1h0M212.5 521.8h0M173.6 545.1h0M208.7 512.2h0M175.4 534.2h0M192.5 537.2h0M184.8 514.1h0M180.4 506.5h0M170.9 557.7h0M215.0 517.1h0M174.5 528.3h0M165.8 519.4h0M174.3 558.9h0M177.4 555.9h0M206.8 531.1h0M223.8 555.9h0M198.7 550.1h0M213.5 527.5h0M221.9 546.4h0M211.3 541.6h0M202.5 546.9h0M208.7 559.6h0M216.6 523.9h0M222.9 535.3h0M214.6 558.0h0M218.9 541.6h0M215.0 538.4h0M202.9 536.7h0M235.1 545.6h0M207.9 548.7h0M228.7 554.0h0M228.5 539.2h0M205.9 540.8h0M213.1 532.9h0M227.1 544.1h0M211.6 554.1h0M197.5 543.8h0M202.2 560.4h0M197.8 555.6h0M217.0 551.1h0M213.0 512.3h0M216.1 509.4h0M243.5 498.5h0M248.0 505.0h0M246.0 507.0h0M252.5 544.5h0M234.0 542.0h0M206.0 547.0h0M208.0 552.5h0M207.0 559.0h0M202.5 568.5h0M208.5 568.0h0M214.5 570.0h0M215.0 575.5h0M216.0 576.0h0M230.0 573.0h0M244.0 574.0h0M236.0 567.0h0M240.0 575.0h0M246.0 577.0h0M277.0 529.0h0M780.5 596.5h0M776.6 602.0h0M751.5 596.0h0M741.9 594.9h0M755.3 605.9h0M743.0 605.6h0M783.2 589.7h0M749.4 605.1h0M751.2 592.4h0M779.1 583.7h0M756.1 588.0h0M760.2 604.3h0M762.7 597.5h0M770.2 581.2h0M754.3 600.0h0M716.0 589.8h0M777.7 588.8h0M769.4 594.4h0M735.7 596.1h0M760.1 587.0h0M749.4 600.1h0M764.5 591.1h0M772.9 591.5h0M766.8 597.9h0M779.5 578.3h0M775.7 582.0h0M724.3 592.3h0M724.1 599.2h0M746.1 601.9h0M735.0 599.7h0M772.0 602.5h0M740.6 598.0h0M749.7 588.8h0M729.6 596.4h0M707.8 581.8h0M776.7 594.7h0M772.5 598.6h0M758.0 595.8h0M738.8 603.4h0M731.7 593.4h0M720.7 597.2h0M766.7 583.6h0M756.8 583.9h0M760.1 591.7h0M763.6 585.2h0M747.5 595.8h0M768.9 587.5h0M779.6 591.5h0M743.0 600.9h0M729.5 601.0h0M771.8 585.7h0M780.8 587.3h0M766.4 601.3h0M757.3 601.8h0M772.7 583.3h0M779.1 596.7h0M771.8 601.1h0M767.7 600.7h0M773.8 590.7h0M761.5 598.9h0M777.2 579.0h0M780.9 578.9h0M782.4 594.3h0M785.5 585.8h0M766.3 598.4h0M776.4 586.8h0M784.4 589.1h0M758.6 603.4h0M780.6 585.9h0M776.3 583.9h0M764.3 585.3h0M767.1 589.0h0M768.0 594.7h0M764.1 595.1h0M761.5 584.2h0M768.8 585.2h0M757.1 594.3h0M757.1 591.5h0M767.2 591.6h0M766.8 581.8h0M760.3 587.5h0M758.5 600.2h0M762.7 601.5h0M770.8 594.5h0M755.8 596.8h0M783.9 580.0h0M773.8 598.0h0M777.5 590.0h0M778.9 582.4h0M763.2 589.8h0M774.8 593.4h0M775.4 601.2h0M770.4 581.3h0M760.4 591.9h0M761.3 596.1h0M771.4 588.5h0M778.1 593.1h0M763.7 581.6h0M773.8 579.8h0M735.0 589.3h0M741.3 588.4h0M735.8 524.2h0M740.4 532.0h0M740.4 535.7h0M754.2 541.2h0M737.7 544.8h0M740.0 550.3h0M749.6 550.3h0M747.8 557.7h0M756.0 556.7h0M739.0 559.0h0M753.3 562.7h0M746.0 563.2h0M746.8 566.0h0M759.7 565.5h0M719.8 535.2h0M728.0 537.0h0M721.6 545.7h0M726.7 554.9h0M782.1 562.3h0M787.2 564.5h0M783.5 571.0h0M743.0 539.0h0M748.0 552.0h0M745.0 548.0h0M742.0 530.0h0M752.0 539.0h0M1031.4 644.3h0M976.1 732.6h0M900.6 720.7h0M1019.3 649.1h0M975.6 741.9h0M913.0 727.8h0M921.1 723.1h0M957.9 719.4h0M989.1 728.2h0M918.7 740.0h0M1017.6 666.2h0M1010.9 689.9h0M1015.9 724.3h0M946.8 779.7h0M939.9 709.2h0M1046.4 701.4h0M1017.7 692.1h0M992.0 656.5h0M1008.9 771.2h0M1003.2 641.1h0M1039.7 653.9h0M1005.9 740.3h0M984.3 711.4h0M1027.9 641.4h0M975.4 700.5h0M1042.5 710.0h0M915.1 765.3h0M1021.8 743.9h0M1016.0 764.1h0M1049.5 702.9h0M1025.9 714.0h0M906.9 712.7h0M992.0 730.7h0M948.4 716.4h0M1023.3 700.6h0M923.4 725.4h0M972.6 755.2h0M973.6 773.8h0M959.4 715.7h0M1052.0 683.9h0M962.3 703.3h0M1033.5 649.8h0M919.2 730.4h0M948.9 741.6h0M953.7 763.6h0M985.5 755.7h0M954.7 774.3h0M1000.1 711.4h0M961.1 762.2h0M991.0 648.1h0M1002.5 768.6h0M986.8 720.8h0M979.7 681.0h0M934.6 734.4h0M1012.9 697.4h0M988.1 665.0h0M1030.0 743.5h0M967.4 765.0h0M925.6 743.1h0M1002.8 719.1h0M998.7 638.0h0M959.7 736.6h0M931.9 735.3h0M964.9 718.5h0M919.3 766.1h0M1039.6 716.6h0M1002.8 659.0h0M1024.8 670.8h0M991.2 678.1h0M1036.4 735.9h0M1001.6 723.3h0M983.6 773.0h0M1036.1 709.8h0M1010.6 642.9h0M981.3 763.3h0M1034.7 713.5h0M1027.9 757.8h0M1033.7 653.9h0M923.4 747.9h0M930.4 717.1h0M966.7 674.7h0M1056.4 686.4h0M1016.6 767.3h0M1021.1 751.8h0M1017.2 671.4h0M1001.4 733.9h0M974.7 677.4h0M1050.2 677.5h0M905.0 734.8h0M1005.8 703.5h0M964.7 736.0h0M994.6 651.3h0M935.0 691.2h0M948.6 728.9h0M988.0 744.8h0M1002.7 688.6h0M927.5 768.4h0M1022.2 678.8h0M995.6 770.6h0M1012.4 669.1h0M1048.8 694.3h0M1027.8 666.3h0M1055.5 699.0h0M980.7 771.5h0M945.5 776.7h0M1011.7 742.0h0M998.4 762.5h0M989.9 701.8h0M1032.7 669.2h0M996.8 645.5h0M966.4 708.3h0M1040.1 702.1h0M932.9 760.5h0M1042.4 714.1h0M1051.8 657.4h0M1020.2 762.9h0M974.8 681.1h0M1015.1 734.0h0M917.4 747.9h0M986.0 748.5h0M957.5 772.1h0M926.5 760.7h0M1018.6 684.5h0M1019.2 727.2h0M1024.4 749.3h0M987.9 760.4h0M1036.3 695.6h0M986.3 701.0h0M975.5 692.8h0M1006.9 649.4h0M1009.8 635.0h0M986.7 652.3h0M954.6 680.3h0M979.2 675.9h0M952.4 722.6h0M1029.5 720.3h0M1006.9 728.2h0M938.7 685.3h0M987.0 739.8h0M968.7 756.5h0M997.4 718.3h0M1028.9 632.9h0M951.9 752.8h0M964.8 721.9h0M988.8 763.6h0M958.8 745.7h0M979.5 722.0h0M930.6 724.4h0M1001.7 763.8h0M922.9 714.6h0M1049.2 673.6h0M972.3 714.7h0M941.0 757.5h0M979.9 698.4h0M1031.9 707.9h0M985.6 723.8h0M999.1 652.9h0M1048.6 721.6h0M950.8 760.6h0M1043.4 719.5h0M1051.3 699.3h0M911.0 730.7h0M938.9 763.4h0M946.5 674.1h0M1016.8 742.5h0M946.2 771.2h0M1038.2 678.4h0M946.2 765.9h0M1049.5 709.5h0M981.6 671.6h0M1021.0 630.6h0M1015.4 657.0h0M954.8 746.5h0M995.2 689.9h0M961.9 759.2h0M933.2 771.7h0M991.0 681.4h0M1032.6 741.3h0M1046.4 652.9h0M953.6 767.3h0M972.7 736.4h0M1042.6 696.5h0M924.7 731.4h0M928.0 702.8h0M963.6 770.4h0M1033.6 728.1h0M1041.3 706.8h0M1037.5 704.9h0M1000.4 729.9h0M987.0 773.5h0M970.0 701.5h0M910.8 747.5h0M1014.2 641.5h0M998.9 757.9h0M1006.8 755.7h0M966.6 661.3h0M928.4 754.0h0M992.3 717.3h0M941.5 746.0h0M1041.1 671.2h0M1014.1 756.9h0M968.1 692.7h0M925.6 780.9h0M1039.3 649.6h0M982.4 753.9h0M976.6 725.8h0M977.4 736.1h0M1038.2 714.0h0M1011.5 655.2h0M955.6 706.9h0M1040.7 642.0h0M1004.4 751.1h0M1035.5 682.4h0M944.1 769.1h0M992.5 747.8h0M1019.3 659.5h0M993.5 726.2h0M1046.6 680.7h0M978.8 660.2h0M1021.0 671.5h0M944.6 679.6h0M1038.4 741.9h0M930.7 692.5h0M994.5 765.4h0M993.2 755.6h0M929.1 743.2h0M948.3 746.5h0M995.8 639.0h0M1043.3 704.2h0M994.7 734.9h0M1029.5 698.3h0M1030.1 680.6h0M1006.1 723.0h0M968.0 743.1h0M959.0 693.0h0M967.3 778.6h0M977.3 745.2h0M1048.3 649.9h0M1041.5 657.7h0M932.7 701.2h0M1009.1 672.1h0M1047.0 712.5h0M1021.9 684.7h0M937.6 732.8h0M934.9 698.7h0M989.8 651.3h0M956.8 690.0h0M949.1 668.7h0M1010.1 652.2h0M984.8 645.9h0M1018.4 700.4h0M1011.3 724.0h0M1017.0 758.1h0M988.0 713.0h0M1041.7 675.2h0M977.7 730.0h0M963.3 773.7h0M919.1 707.4h0M962.7 738.2h0M933.4 723.6h0M1001.5 741.9h0M974.0 707.8h0M903.2 711.6h0M1042.4 726.6h0M992.0 772.0h0M978.0 767.3h0M1058.2 656.8h0M979.1 708.5h0M956.7 730.8h0M1008.4 712.6h0M1027.1 685.1h0M1032.8 703.3h0M996.4 678.1h0M1023.5 688.5h0M930.1 708.6h0M1023.1 761.6h0M930.1 766.1h0M954.5 781.6h0M902.7 714.5h0M949.2 751.5h0M956.6 709.5h0M955.3 703.7h0M976.2 664.0h0M910.4 742.2h0M1029.0 636.0h0M1013.1 730.7h0M1014.1 664.2h0M981.9 646.4h0M983.9 678.3h0M1033.7 640.8h0M982.8 738.1h0M1039.5 738.2h0M1052.7 649.6h0M1033.4 665.5h0M922.5 758.7h0M1030.0 717.6h0M1049.3 725.2h0M962.3 671.5h0M1045.4 650.3h0M978.6 773.5h0M913.2 738.6h0M994.0 761.5h0M1000.2 669.3h0M1032.7 686.8h0M1049.1 715.5h0M1057.8 654.1h0M1006.1 632.8h0M1008.5 750.3h0M997.3 700.8h0M952.2 695.9h0M1032.9 681.5h0M979.8 657.2h0M961.1 700.0h0M1018.6 687.5h0M961.6 754.8h0M956.5 726.7h0M926.1 765.6h0M998.0 748.9h0M953.8 662.9h0M1024.0 653.9h0M980.9 684.9h0M976.7 721.7h0M944.9 706.9h0M965.3 725.5h0M970.8 744.2h0M1042.7 683.7h0M1025.9 730.1h0M917.1 778.5h0M967.6 712.4h0M1026.7 650.4h0M1008.2 691.8h0M1029.2 659.2h0M996.4 708.3h0M1060.3 694.6h0M1045.8 662.4h0M998.1 686.4h0M926.8 715.0h0M1059.2 697.9h0M945.2 726.8h0M1026.8 719.1h0M1025.5 743.6h0M932.5 777.9h0M1021.5 635.0h0M1016.1 661.4h0M975.2 769.2h0M950.0 687.4h0M917.8 720.4h0M937.9 739.9h0M961.3 717.9h0M987.8 777.5h0M941.8 763.1h0M934.5 766.7h0M1018.4 634.0h0M1005.8 767.4h0M935.5 753.0h0M969.2 735.4h0M944.4 698.3h0M902.5 728.2h0M1026.8 662.4h0M952.5 772.0h0M948.7 721.9h0M1011.3 709.0h0M928.0 738.4h0M987.8 735.5h0M941.0 679.5h0M933.9 728.7h0M1049.8 718.3h0M969.8 686.2h0M1031.2 752.0h0M962.7 691.4h0M1024.8 677.8h0M1046.5 658.8h0M952.1 706.3h0M970.3 678.3h0M1013.8 676.8h0M1013.7 632.6h0M959.1 670.0h0M931.9 721.0h0M1006.8 636.1h0M1003.5 729.3h0M1046.7 685.6h0M1058.7 674.5h0M925.1 775.3h0M1017.2 717.5h0M988.0 644.6h0M942.1 734.0h0M1049.8 681.4h0M959.4 732.9h0M1005.3 682.2h0M1007.3 652.9h0M1004.5 770.6h0M1036.3 645.2h0M1033.6 659.5h0M911.5 716.9h0M924.0 737.4h0M1003.4 708.1h0M992.5 653.7h0M998.9 722.1h0M970.7 747.7h0M1055.1 670.4h0M1039.0 724.2h0M929.7 698.1h0M906.7 723.6h0M1044.7 694.1h0M940.6 741.5h0M944.2 781.2h0M1039.5 727.9h0M943.8 739.1h0M984.3 650.3h0M1006.4 641.1h0M967.6 774.3h0M983.2 766.0h0M1005.3 700.4h0M978.2 667.3h0M1001.5 679.2h0M961.9 776.6h0M989.7 697.0h0M1028.4 673.6h0M1051.9 675.2h0M940.4 737.1h0M1028.3 739.2h0M1044.2 688.8h0M939.5 716.1h0M979.0 758.9h0M1053.3 662.1h0M963.1 663.1h0M956.8 776.6h0M949.5 677.4h0M946.5 753.6h0M916.7 769.1h0M974.8 747.5h0M944.5 693.9h0M1055.0 678.5h0M990.5 667.6h0M1045.1 709.2h0M916.2 706.3h0M989.8 725.0h0M964.9 711.4h0M1018.8 677.0h0M1044.7 677.9h0M980.9 732.2h0M949.4 772.0h0M954.1 758.2h0M939.2 771.8h0M930.8 762.9h0M941.8 722.7h0M1041.4 688.4h0M1023.0 735.2h0M984.6 664.0h0M1008.7 697.3h0M956.2 671.2h0M1011.2 745.0h0M1045.3 722.3h0M959.9 739.8h0M991.3 766.3h0M1018.2 745.9h0M988.4 680.1h0M982.5 748.9h0M957.8 684.6h0M956.3 769.0h0M1046.0 696.8h0M1013.4 682.8h0M949.7 732.0h0M1058.2 683.6h0M1024.5 738.5h0M1015.6 704.6h0M1036.1 724.7h0M930.6 713.2h0M976.5 648.3h0M978.5 672.7h0M1010.4 766.9h0M987.8 673.0h0M916.8 715.4h0M1023.1 727.7h0M1048.9 697.3h0M930.4 745.7h0M1034.2 689.9h0M935.8 713.1h0M918.1 743.6h0M1020.6 759.4h0M952.9 666.6h0M980.4 695.6h0M975.9 778.9h0M949.7 776.3h0M1036.7 668.7h0M960.2 742.9h0M935.0 718.3h0M987.4 694.8h0M937.5 737.2h0M1052.1 693.7h0M1023.5 712.6h0M1055.9 661.2h0M948.3 709.6h0M960.2 751.1h0M913.8 735.8h0M942.2 775.7h0M1026.3 708.8h0M1042.8 734.7h0M945.1 710.4h0M1007.0 731.2h0M996.5 729.7h0M992.3 665.3h0M1019.7 766.5h0M987.5 707.1h0M1010.3 675.8h0M1029.9 689.4h0M1001.0 760.3h0M1006.4 743.9h0M972.3 724.5h0M962.5 696.8h0M941.2 727.5h0M945.4 730.5h0M999.0 642.3h0M1057.2 666.3h0M982.2 778.3h0M963.8 685.1h0M999.3 770.2h0M1016.6 708.3h0M917.3 773.7h0M1062.1 679.2h0M1003.6 650.1h0M1019.8 656.5h0M909.2 737.2h0M998.6 765.8h0M981.8 720.1h0M1019.5 723.4h0M943.2 703.7h0M1028.0 732.1h0M974.8 765.5h0M1036.8 642.2h0M1050.9 644.0h0M930.9 768.8h0M972.9 665.7h0M1059.4 669.7h0M992.0 714.0h0M1021.7 747.8h0M1012.2 658.0h0M1006.8 747.0h0M1028.1 754.8h0M966.4 683.5h0M1041.0 667.1h0M969.5 772.1h0M946.8 703.7h0M970.1 768.7h0M1051.2 687.1h0M1002.7 694.5h0M985.0 685.7h0M959.5 768.9h0M963.5 678.9h0M959.8 687.9h0M1031.3 655.6h0M922.6 744.3h0M997.6 683.6h0M992.1 739.9h0M1004.6 656.1h0M1032.0 724.3h0M959.1 702.0h0M1022.5 703.2h0M926.2 771.2h0M1023.5 663.7h0M1014.8 761.4h0M960.5 724.0h0M966.1 658.5h0M1024.3 640.0h0M999.5 703.6h0M984.9 672.9h0M960.9 771.9h0M1033.7 633.6h0M921.3 763.8h0M975.3 670.3h0M951.7 740.7h0M971.9 776.8h0M957.1 766.3h0M1024.3 674.2h0M947.4 774.4h0M925.7 706.6h0M994.1 672.5h0M951.3 725.3h0M1016.7 770.0h0M916.8 734.0h0M1009.1 734.1h0M929.2 695.2h0M915.1 754.5h0M1028.0 678.2h0M948.9 737.7h0M988.4 754.0h0M970.1 782.3h0M1010.9 752.5h0M996.3 668.8h0M1008.0 668.4h0M973.8 661.8h0M996.6 659.1h0M1025.7 698.7h0M934.8 779.7h0M988.9 657.8h0M1018.0 644.8h0M937.6 725.7h0M933.7 747.6h0M1005.7 664.6h0M945.4 760.8h0M984.2 698.0h0M950.8 682.5h0M1002.4 671.2h0M973.6 690.6h0M981.6 743.6h0M1038.1 699.9h0M988.1 654.7h0M922.4 708.1h0M999.8 634.7h0M934.1 744.0h0M990.7 769.3h0M1006.0 646.3h0M942.8 748.7h0M1019.9 756.2h0M1001.2 747.9h0M1042.6 661.3h0M1043.2 737.8h0M984.8 655.6h0M1031.3 700.5h0M1005.8 671.3h0M1011.2 748.5h0M944.8 713.7h0M980.4 651.5h0M984.8 669.6h0M982.0 675.6h0M972.4 719.8h0M935.7 694.4h0M969.3 666.3h0M927.0 777.6h0M1012.9 770.8h0M1046.0 704.9h0M932.9 696.9h0M982.6 681.1h0M1029.1 705.9h0M992.7 705.2h0M1010.6 680.1h0M950.2 714.0h0M909.7 721.3h0M1043.8 669.6h0M969.4 726.7h0M967.1 739.7h0M1029.1 695.3h0M927.4 746.4h0M934.5 738.3h0M1033.8 636.9h0M1047.8 689.7h0M899.2 714.4h0M946.2 686.9h0M1039.8 731.6h0M989.2 750.8h0M1059.0 679.6h0M964.6 779.1h0M970.9 661.3h0M914.0 731.9h0M993.8 646.6h0M952.6 734.9h0M985.8 683.0h0M935.7 688.5h0M963.2 668.6h0M975.3 674.7h0M954.7 699.1h0M1061.3 682.9h0M1027.0 701.3h0M923.8 754.8h0M1023.8 649.7h0M1008.4 708.6h0M997.7 665.4h0M952.8 716.9h0M957.0 676.9h0M1041.9 650.5h0M1013.9 715.5h0M923.3 767.8h0M1019.7 709.8h0M1039.9 744.3h0M1005.9 718.8h0M1011.3 756.8h0M940.0 703.9h0M1026.2 630.9h0M978.3 752.3h0M979.3 741.1h0M991.6 675.3h0M1044.0 672.6h0M1002.2 737.4h0M924.7 710.9h0M988.6 690.9h0M1033.4 718.0h0M976.4 688.8h0M941.8 779.5h0M917.2 781.5h0M1055.0 651.7h0M1047.4 644.6h0M990.6 733.9h0M946.9 690.5h0M932.8 751.8h0M926.4 734.5h0M992.5 699.0h0M919.9 733.4h0M983.9 733.7h0M935.7 685.6h0M977.2 706.4h0M983.1 728.0h0M1014.6 686.3h0M981.7 768.3h0M984.1 708.1h0M914.3 746.3h0M1038.4 689.4h0M1023.5 706.2h0M958.0 722.6h0M1000.3 745.0h0M914.6 750.4h0M972.1 682.7h0M949.3 673.9h0M1000.3 752.9h0M923.7 761.3h0M985.7 704.8h0M965.9 664.9h0M1024.2 732.5h0M1018.9 694.6h0M992.0 775.9h0M908.2 716.8h0M940.7 713.0h0M1004.4 638.6h0M965.0 744.3h0M1004.9 714.5h0M991.3 661.2h0M991.8 690.2h0M986.7 770.0h0M1003.3 698.2h0M945.2 721.1h0M995.3 744.5h0M994.1 768.3h0M960.2 680.5h0M974.9 728.8h0M941.7 767.4h0M1001.3 691.6h0M1030.7 712.7h0M932.0 756.5h0M915.6 740.1h0M1013.9 767.0h0M1021.0 739.0h0M968.8 697.9h0M998.6 673.2h0M924.3 719.0h0M968.8 671.0h0M1030.6 671.4h0M1024.5 757.2h0M969.9 716.2h0M1019.4 714.1h0M1003.3 652.9h0M937.1 757.0h0M978.9 713.4h0M941.9 675.8h0M1028.0 669.3h0M966.4 769.3h0M938.4 753.0h0M1021.2 645.8h0M904.5 721.3h0M930.9 740.2h0M972.7 693.6h0M1035.0 675.8h0M938.0 721.5h0M1021.3 666.7h0M948.1 734.7h0M997.8 648.8h0M1053.2 690.0h0M1003.8 755.4h0M920.8 781.8h0M941.0 688.7h0M948.1 758.0h0M957.3 752.0h0M942.3 685.2h0M1010.8 646.3h0M931.7 704.2h0M954.2 719.7h0M958.9 705.7h0M940.4 696.2h0M1045.6 734.5h0M939.8 718.9h0M921.4 770.6h0M963.1 706.3h0M966.4 655.0h0M960.7 729.8h0M959.7 659.2h0M1034.1 750.2h0M1055.9 690.6h0M1016.9 682.0h0M950.5 690.9h0M989.1 710.3h0M970.4 689.2h0M1058.2 688.9h0M960.2 713.0h0M915.9 712.5h0M993.0 759.0h0M946.2 742.5h0M1018.6 733.8h0M935.5 762.6h0M1016.1 697.5h0M1024.0 719.7h0M1032.1 662.8h0M984.1 660.4h0M1001.2 726.8h0M934.4 708.3h0M1040.3 637.3h0M987.3 718.0h0M955.5 692.5h0M1018.8 749.9h0M1032.9 744.3h0M926.6 749.4h0M1003.1 667.0h0M1036.5 721.2h0M1016.0 630.3h0M938.6 730.1h0M971.7 669.3h0M966.1 689.5h0M993.7 737.5h0M965.0 701.2h0M957.2 734.7h0M987.5 648.1h0M1042.9 653.8h0M945.2 717.3h0M988.7 757.2h0M907.2 732.4h0M929.3 733.4h0M1017.1 638.7h0M1011.9 650.1h0M980.4 717.0h0M968.6 706.6h0M1005.9 677.1h0M1049.0 654.7h0M1027.8 736.1h0M992.5 751.0h0M965.9 757.0h0M921.3 741.0h0M948.6 764.5h0M1001.5 655.4h0M1004.0 733.0h0M913.2 778.1h0M910.3 708.5h0M1008.4 656.0h0M944.9 735.6h0M920.6 778.8h0M964.0 694.4h0M950.9 745.4h0M1037.0 654.8h0M945.3 747.4h0M906.6 719.5h0M961.9 734.9h0M1015.7 689.6h0M952.6 674.1h0M1016.2 673.9h0M958.0 699.1h0M1025.0 634.6h0M996.5 774.2h0M1034.5 671.8h0M1025.6 645.8h0M1036.3 729.3h0M1005.4 693.3h0M1005.5 710.0h0M996.3 704.4h0M951.9 671.4h0M927.4 721.2h0M914.2 719.3h0M913.0 774.3h0M987.0 667.6h0M958.9 782.1h0M945.1 756.3h0M1041.4 677.9h0M1007.0 736.6h0M944.4 751.9h0M967.4 730.8h0M979.5 687.6h0M982.6 657.8h0M1024.6 681.4h0M982.9 692.8h0M935.9 701.6h0M1004.9 760.5h0M1039.0 684.6h0M942.1 707.1h0M988.4 732.1h0M951.4 719.4h0M1045.0 717.2h0M1013.9 751.9h0M971.8 710.6h0M1043.0 665.0h0M976.5 651.2h0M1014.7 745.8h0M920.2 710.7h0M1032.2 730.7h0M1062.5 666.7h0M955.6 755.8h0M956.4 743.4h0M904.4 731.0h0M967.2 668.6h0M964.5 752.4h0M973.9 686.0h0M984.5 743.0h0M1019.7 653.0h0M939.6 750.3h0M1015.2 644.6h0M923.3 734.1h0M1013.7 647.4h0M1033.6 734.0h0M950.0 781.8h0M998.5 737.8h0M937.8 780.4h0M955.4 761.1h0M968.4 718.7h0M1010.4 739.0h0M1014.4 699.8h0M947.6 749.2h0M952.6 731.3h0M992.4 643.7h0M995.9 757.7h0M1063.3 669.4h0M989.8 640.0h0M984.0 758.5h0M978.7 748.2h0M921.3 718.8h0M1009.8 694.3h0M1016.9 752.4h0M1022.0 692.2h0M1003.0 633.3h0M968.2 723.0h0M973.2 650.1h0M1035.6 702.3h0M1000.9 665.1h0M938.1 743.6h0M1007.8 630.6h0M1011.7 763.4h0M938.2 691.0h0M984.6 715.6h0M1049.6 669.7h0M959.0 674.5h0M980.7 668.7h0M1019.8 703.8h0M1032.0 715.6h0M1013.3 692.0h0M917.3 710.0h0M987.5 661.9h0M995.3 662.9h0M1054.9 658.0h0M1022.9 697.3h0M1052.5 702.2h0M970.4 753.0h0M962.5 783.1h0M946.4 683.9h0M986.1 765.1h0M1054.5 667.1h0M977.9 756.2h0M1008.0 715.5h0M1023.4 632.3h0M1061.6 673.3h0M981.5 710.6h0M969.8 652.4h0M921.9 775.7h0M929.1 774.5h0M959.6 695.9h0M898.8 706.0h0M949.7 699.2h0M975.6 761.1h0M957.7 665.7h0M1025.7 657.2h0M1008.3 759.0h0M1052.9 696.8h0M1012.2 638.7h0M955.9 716.2h0M1015.6 669.1h0M1009.4 703.0h0M987.0 627.8h0M994.2 625.7h0M964.8 653.9h0M971.7 643.9h0M980.3 633.2h0M1000.4 631.2h0M991.2 637.3h0M942.1 668.1h0M1009.6 622.8h0M983.4 638.8h0M928.2 688.6h0M935.1 673.1h0M964.9 638.5h0M933.1 686.5h0M973.1 633.9h0M904.0 623.0h0M909.0 697.0h0M602.5 690.1h0M612.0 658.5h0M617.8 665.1h0M614.7 679.8h0M616.2 706.3h0M639.4 686.3h0M609.9 703.2h0M617.1 656.2h0M655.1 690.3h0M598.8 672.4h0M605.7 665.7h0M627.8 665.8h0M630.1 684.3h0M608.4 662.8h0M644.8 674.2h0M605.5 661.9h0M608.6 679.5h0M647.0 681.5h0M610.0 695.6h0M643.8 687.5h0M643.6 660.0h0M627.2 676.0h0M636.7 684.8h0M622.9 648.8h0M649.9 684.0h0M634.5 693.8h0M616.2 697.8h0M640.6 681.2h0M631.4 687.0h0M625.1 693.8h0M630.8 703.1h0M637.5 695.7h0M596.0 681.2h0M646.3 665.2h0M623.3 666.4h0M647.9 677.6h0M612.0 663.5h0M618.7 692.3h0M604.0 684.6h0M619.3 704.1h0M640.5 657.2h0M624.1 691.0h0M623.9 659.1h0M624.8 678.8h0M653.8 683.0h0M621.6 682.7h0M629.6 669.4h0M623.9 651.6h0M647.7 659.7h0M621.0 675.5h0M594.9 678.2h0M604.5 678.3h0M626.5 662.1h0M643.2 671.3h0M642.6 694.5h0M636.5 676.0h0M625.1 701.6h0M636.1 667.6h0M599.2 679.2h0M609.8 648.7h0M604.5 694.6h0M635.9 658.3h0M646.5 691.5h0M610.6 667.4h0M594.9 668.3h0M599.3 666.7h0M651.0 688.3h0M632.9 660.8h0M618.5 660.0h0M620.2 695.8h0M628.1 704.3h0M627.9 655.1h0M605.8 690.0h0M630.2 692.0h0M646.3 694.6h0M613.1 689.9h0M603.5 700.5h0M638.4 669.9h0M596.2 649.8h0M619.0 679.1h0M613.0 670.5h0M609.0 658.2h0M643.6 682.7h0M634.3 687.2h0M597.4 688.8h0M596.9 693.6h0M620.6 672.2h0M639.4 698.3h0M596.4 660.9h0M632.6 673.2h0M617.8 671.4h0M602.4 654.6h0M638.2 692.7h0M620.9 688.3h0M604.6 652.7h0M648.7 697.6h0M603.2 645.3h0M612.7 650.3h0M626.6 683.5h0M624.8 687.2h0M618.3 651.7h0M636.2 702.8h0M625.0 669.7h0M622.1 654.1h0M594.6 687.3h0M604.6 668.4h0M632.0 681.5h0M604.0 673.8h0M600.4 658.2h0M618.1 701.2h0M657.4 685.8h0M610.8 684.5h0M616.6 688.8h0M605.7 698.5h0M631.9 676.0h0M642.7 704.3h0M594.2 675.1h0M616.7 682.6h0M647.3 656.5h0M644.6 701.3h0M635.8 698.6h0M607.5 701.2h0M595.9 655.9h0M646.7 703.8h0M607.5 670.0h0M632.4 700.3h0M626.8 673.1h0M642.7 666.4h0M631.1 666.3h0M613.0 655.6h0M610.4 671.8h0M643.4 697.4h0M630.4 695.4h0M640.2 663.3h0M601.3 651.1h0M639.7 701.8h0M640.2 677.7h0M615.4 646.0h0M649.9 694.4h0M633.9 690.2h0M614.2 661.5h0M644.1 679.7h0M598.0 676.0h0M598.9 683.1h0M604.8 657.2h0M596.3 665.2h0M627.9 659.0h0M612.0 675.1h0M612.6 701.1h0M625.0 704.6h0M611.1 687.7h0M607.0 685.3h0M606.5 647.8h0M630.0 662.6h0M651.8 679.9h0M599.3 691.9h0M642.7 690.8h0M628.5 701.2h0M644.3 655.0h0M621.0 699.9h0M636.0 664.0h0M640.4 674.0h0M614.3 703.5h0M617.3 676.5h0M614.7 652.5h0M609.8 692.2h0M614.6 686.4h0M609.5 653.5h0M649.5 664.9h0M636.5 679.6h0M621.2 669.2h0M614.7 667.0h0M599.4 662.5h0M637.6 673.0h0M598.8 696.2h0M647.1 671.9h0M637.7 688.9h0M630.4 679.1h0M607.4 674.5h0M610.0 644.0h0M627.2 652.2h0M601.1 674.5h0M598.5 647.2h0M612.6 697.7h0M648.8 674.4h0M611.6 705.8h0M614.9 695.2h0M602.5 662.4h0M676.9 715.0h0M654.2 694.3h0M654.9 704.8h0M671.2 713.6h0M667.0 716.7h0M671.4 720.7h0M667.0 702.0h0M657.6 697.7h0M660.9 713.7h0M653.9 687.3h0M678.3 721.2h0M659.7 693.9h0M663.2 698.7h0M657.0 683.3h0M671.1 726.2h0M648.5 704.1h0M678.4 730.9h0M675.0 733.7h0M676.6 709.3h0M654.7 709.3h0M653.6 700.7h0M664.4 706.0h0M678.0 725.8h0M664.0 688.3h0M666.9 709.2h0M672.6 703.8h0M659.2 708.6h0M658.6 687.2h0M597.8 713.9h0M595.6 718.0h0M593.2 722.9h0M590.9 729.4h0M587.4 736.4h0M584.8 741.6h0M622.0 711.0h0M583.0 744.0h0M323.8 768.4h0M324.0 775.3h0M356.0 772.9h0M332.5 736.8h0M328.1 749.2h0M378.9 798.3h0M341.6 851.9h0M341.7 756.5h0M385.4 792.0h0M330.3 788.8h0M292.3 832.8h0M363.4 832.2h0M336.3 771.7h0M347.4 798.8h0M382.1 796.0h0M404.0 823.1h0M356.2 860.2h0M347.7 819.4h0M320.9 851.2h0M337.8 729.0h0M347.1 859.3h0M374.0 843.4h0M379.3 802.4h0M301.2 846.2h0M361.9 728.1h0M337.4 796.0h0M354.9 824.3h0M371.7 763.0h0M317.5 839.5h0M336.8 860.4h0M396.4 801.0h0M314.9 814.7h0M331.9 740.5h0M358.5 823.9h0M315.3 819.7h0M365.6 737.9h0M297.4 827.3h0M323.8 792.4h0M334.5 777.0h0M327.4 791.9h0M347.8 811.1h0M343.4 835.4h0M336.1 847.0h0M389.8 795.7h0M325.3 785.2h0M314.1 859.1h0M388.3 832.1h0M329.2 783.0h0M311.7 850.7h0M369.2 753.2h0M389.3 809.2h0M322.6 812.4h0M391.3 837.3h0M335.2 812.4h0M303.4 810.1h0M402.6 819.4h0M361.1 777.6h0M347.8 840.0h0M336.5 767.9h0M421.6 819.3h0M400.9 834.8h0M407.8 820.3h0M370.7 789.9h0M309.6 833.2h0M315.4 806.5h0M334.1 837.7h0M360.0 787.2h0M358.5 719.6h0M356.4 723.6h0M401.4 814.2h0M331.3 793.1h0M351.6 767.3h0M330.5 754.1h0M373.7 774.6h0M350.2 771.6h0M391.9 831.5h0M370.2 849.8h0M350.5 745.7h0M324.3 749.0h0M302.5 832.9h0M351.5 844.9h0M352.3 783.9h0M354.1 752.3h0M370.2 765.7h0M368.3 847.1h0M395.1 818.9h0M368.5 746.9h0M360.3 782.5h0M359.3 738.9h0M363.1 801.4h0M315.8 801.9h0M324.6 744.9h0M344.4 814.0h0M339.2 781.6h0M397.5 840.7h0M330.4 850.8h0M334.1 757.8h0M374.5 839.0h0M306.0 855.4h0M388.0 801.8h0M364.3 754.3h0M354.7 827.6h0M371.9 846.1h0M377.5 814.1h0M375.2 816.6h0M294.0 819.9h0M308.7 856.9h0M328.1 832.2h0M347.6 783.7h0M370.2 756.7h0M303.5 853.2h0M362.7 742.2h0M323.3 800.5h0M363.4 769.9h0M372.0 817.4h0M306.3 818.6h0M328.5 839.6h0M339.7 753.0h0M347.2 751.4h0M334.0 728.4h0M367.1 792.8h0M336.2 820.6h0M378.9 829.1h0M365.1 843.9h0M340.9 807.2h0M417.0 811.8h0M361.0 826.0h0M367.2 771.6h0M353.4 778.5h0M350.8 780.4h0M367.7 763.0h0M357.8 752.9h0M374.7 796.1h0M367.9 799.4h0M341.4 739.0h0M376.4 784.6h0M372.0 793.6h0M354.2 857.7h0M378.5 773.1h0M348.1 825.9h0M359.5 763.3h0M343.3 826.0h0M381.5 822.9h0M297.8 837.9h0M318.6 845.0h0M312.6 782.8h0M367.0 811.2h0M341.8 799.7h0M398.8 811.0h0M334.7 788.6h0M349.5 792.2h0M289.1 828.6h0M376.6 776.6h0M296.0 814.6h0M330.5 862.5h0M352.3 833.3h0M373.3 786.9h0M296.1 835.2h0M340.9 726.5h0M360.9 745.7h0M352.8 860.6h0M372.6 831.3h0M358.9 793.2h0M306.0 831.6h0M377.5 791.7h0M336.6 808.9h0M314.7 827.4h0M314.2 847.0h0M319.1 805.9h0M316.4 830.2h0M344.0 829.8h0M412.2 810.8h0M364.4 775.1h0M396.5 830.8h0M365.6 730.1h0M388.4 839.4h0M343.6 777.6h0M329.8 731.6h0M380.3 777.3h0M354.6 720.9h0M367.1 855.6h0M347.8 734.8h0M320.9 816.8h0M387.2 815.7h0M333.0 732.4h0M311.0 790.3h0M308.5 829.8h0M294.9 840.5h0M358.4 817.8h0M364.7 835.9h0M416.1 821.5h0M341.8 773.0h0M371.3 769.3h0M335.6 830.6h0M343.3 751.8h0M369.5 824.9h0M372.6 754.5h0M332.7 808.0h0M382.0 814.5h0M331.5 840.8h0M345.9 741.3h0M349.1 822.3h0M368.1 831.3h0M345.3 794.2h0M329.5 743.8h0M298.7 852.8h0M362.7 810.0h0M404.3 803.2h0M321.3 779.8h0M344.9 719.0h0M321.1 766.1h0M330.2 828.2h0M312.6 796.9h0M394.5 805.6h0M373.9 800.3h0M351.4 818.6h0M385.4 797.5h0M319.7 795.1h0M361.2 843.2h0M307.7 801.8h0M384.3 780.0h0M351.3 855.4h0M324.4 828.5h0M320.4 756.3h0M363.6 758.2h0M355.4 830.9h0M353.4 815.6h0M315.3 776.3h0M342.3 841.4h0M364.3 858.4h0M333.5 853.3h0M382.2 838.1h0M355.0 838.5h0M329.7 758.6h0M333.9 761.2h0M363.5 722.7h0M385.1 807.1h0M385.2 785.5h0M395.8 838.0h0M319.1 763.4h0M329.5 775.9h0M339.4 785.1h0M370.8 797.0h0M332.4 818.6h0M324.9 815.2h0M348.6 829.9h0M357.6 746.5h0M329.1 859.4h0M348.0 804.0h0M317.8 863.6h0M344.1 763.6h0M319.2 859.4h0M311.0 815.8h0M331.1 833.9h0M412.9 818.7h0M304.3 847.6h0M339.8 818.6h0M364.4 779.3h0M377.6 806.0h0M313.0 835.4h0M402.0 805.8h0M330.9 765.4h0M340.6 859.8h0M402.2 830.4h0M357.5 785.0h0M332.6 824.3h0M318.2 770.1h0M372.1 812.6h0M376.7 770.3h0M327.9 737.3h0M323.4 753.6h0M369.7 742.9h0M335.3 745.3h0M352.3 737.6h0M363.3 847.2h0M407.4 804.1h0M352.6 725.0h0M394.2 809.3h0M372.6 804.7h0M339.8 848.6h0M329.2 779.7h0M337.3 755.9h0M359.8 798.9h0M402.0 838.4h0M368.3 778.2h0M383.7 833.4h0M355.5 781.0h0M328.5 843.5h0M314.5 855.0h0M400.7 800.1h0M408.5 815.2h0M368.2 816.2h0M399.3 828.9h0M370.7 836.5h0M322.7 796.9h0M369.4 785.6h0M359.0 770.2h0M391.3 826.2h0M381.1 782.8h0M327.9 848.5h0M327.3 772.4h0M345.5 726.4h0M382.3 829.0h0M346.5 772.6h0M362.4 738.7h0M356.4 742.0h0M358.4 838.2h0M355.0 727.0h0M348.2 769.2h0M343.9 860.6h0M295.3 830.4h0M387.9 828.9h0M349.8 764.3h0M314.5 787.9h0M362.1 749.1h0M356.2 733.4h0M369.2 853.1h0M345.7 732.3h0M362.0 838.3h0M338.6 833.0h0M313.3 793.4h0M336.7 734.8h0M336.0 842.6h0M302.5 818.1h0M301.5 841.2h0M345.8 843.3h0M348.0 851.9h0M345.4 822.9h0M360.8 731.6h0M309.0 805.5h0M353.9 787.1h0M348.9 723.7h0M323.3 836.6h0M308.8 860.0h0M361.8 854.1h0M324.7 731.7h0M359.7 758.5h0M387.5 835.5h0M376.8 835.1h0M318.5 833.5h0M400.4 822.2h0M361.7 806.2h0M307.4 813.6h0M318.7 813.2h0M412.6 806.1h0M349.2 836.0h0M351.0 801.3h0M318.5 809.3h0M317.3 816.9h0M365.7 765.7h0M308.4 787.7h0M358.7 847.4h0M370.3 773.2h0M355.9 738.3h0M363.1 821.1h0M347.2 833.5h0M358.0 854.5h0M394.6 833.3h0M348.2 738.7h0M341.4 769.4h0M301.1 826.1h0M344.0 817.2h0M359.0 749.8h0M360.7 859.7h0M401.4 825.8h0M364.0 827.4h0M301.5 849.6h0M340.0 775.9h0M351.1 750.9h0M308.2 840.3h0M387.9 805.5h0M389.9 814.0h0M379.0 794.7h0M336.7 851.3h0M357.9 809.4h0M331.6 801.8h0M379.1 809.5h0M326.2 811.4h0M329.7 821.9h0M388.6 791.0h0M302.3 813.1h0M342.8 796.7h0M375.4 849.4h0M310.3 812.1h0M309.6 853.1h0M395.7 815.9h0M339.2 760.0h0M366.0 824.1h0M340.3 745.2h0M364.2 783.1h0M415.1 808.7h0M359.9 766.9h0M330.7 837.3h0M412.4 815.5h0M371.2 855.8h0M376.4 824.3h0M364.1 786.5h0M316.1 824.3h0M324.0 853.1h0M349.8 756.5h0M383.2 818.7h0M293.0 837.0h0M389.6 761.3h0M399.3 793.0h0M398.3 779.9h0M369.4 722.7h0M391.7 768.2h0M388.4 789.4h0M373.5 747.5h0M380.8 749.3h0M384.7 764.9h0M390.3 775.5h0M375.2 727.2h0M404.4 788.2h0M376.2 758.1h0M407.8 798.1h0M378.9 740.2h0M389.6 782.0h0M381.8 734.0h0M392.0 724.0h0M386.0 743.0h0M396.0 760.0h0M399.0 770.0h0M381.0 820.0h0M365.0 860.0h0M402.0 852.0h0M370.0 862.0h0M503.2 880.9h0M503.3 872.1h0M449.5 849.7h0M461.8 852.0h0M436.6 830.0h0M480.0 873.3h0M403.5 815.4h0M484.3 881.4h0M506.8 880.2h0M456.8 853.3h0M489.2 871.4h0M469.1 865.9h0M476.7 858.3h0M493.2 873.6h0M498.7 878.3h0M444.1 835.1h0M407.1 820.5h0M483.9 864.7h0M435.2 838.8h0M415.1 821.4h0M439.4 836.0h0M476.5 854.8h0M468.4 851.0h0M446.9 839.7h0M464.1 861.1h0M487.8 879.2h0M452.9 848.8h0M483.5 870.6h0M467.7 862.2h0M421.4 831.0h0M418.3 827.6h0M420.8 821.8h0M484.0 876.1h0M426.1 833.7h0M493.4 877.6h0M480.7 861.4h0M503.4 876.3h0M456.7 858.2h0M465.3 853.8h0M510.9 880.0h0M424.8 824.7h0M500.9 872.7h0M494.1 878.3h0M507.2 875.4h0M489.0 878.2h0M507.9 871.7h0M511.9 872.3h0M506.5 868.8h0M497.5 885.8h0M501.0 867.9h0M492.9 882.5h0M503.5 881.8h0M496.7 882.4h0M490.6 870.8h0M492.6 866.8h0M499.0 889.7h0M505.3 878.1h0M485.5 872.6h0M496.7 867.7h0M500.9 886.3h0M488.6 874.8h0M498.9 880.3h0M406.4 826.2h0M414.0 823.8h0M405.3 848.3h0M403.5 851.8h0M447.8 848.3h0M452.0 857.0h0M461.8 863.5h0M481.7 856.5h0M481.7 862.3h0M503.0 903.8h0M504.1 910.3h0M510.6 933.0h0M515.0 952.0h0M518.2 969.3h0M519.3 974.8h0M519.8 986.7h0M524.2 985.6h0M530.7 995.3h0M526.3 1007.3h0M515.5 1012.7h0M528.5 1012.7h0M524.2 1017.0h0M534.0 1006.0h0M519.0 978.0h0M532.0 1000.0h0M522.0 1013.0h0M556.1 782.8h0M548.8 765.5h0M559.6 767.1h0M558.4 772.1h0M563.9 772.4h0M568.8 777.8h0M557.2 778.3h0M560.3 769.6h0M562.1 781.4h0M553.5 778.2h0M544.1 776.4h0M567.2 781.8h0M551.1 775.1h0M568.6 766.7h0M548.6 778.0h0M551.1 771.7h0M571.3 770.7h0M566.3 778.9h0M573.5 772.1h0M556.1 762.5h0M546.5 772.1h0M543.4 770.7h0M576.0 778.7h0M550.0 768.8h0M560.7 763.7h0M579.5 772.1h0M563.3 765.7h0M554.2 772.5h0M571.3 775.4h0M561.0 774.8h0M562.9 778.5h0M569.6 773.1h0M544.4 766.3h0M553.0 767.3h0M575.9 781.4h0M555.2 765.2h0M558.0 764.4h0M558.7 781.8h0M566.6 773.6h0M576.5 775.5h0M566.6 768.5h0M551.9 763.2h0M569.2 763.6h0M541.3 772.6h0M563.7 784.3h0M555.6 774.9h0M556.8 768.8h0M562.9 768.4h0M565.7 764.1h0M551.0 794.0h0M610.5 783.8h0M610.0 786.0h0M610.0 842.5h0M607.5 846.0h0M614.0 852.5h0M618.0 870.0h0M621.0 876.0h0M625.0 884.0h0M630.0 891.0h0M634.0 897.5h0M629.0 902.5h0M637.5 910.0h0M639.0 917.5h0M632.5 921.0h0M612.0 849.0h0M616.0 866.0h0M623.0 880.0h0M632.0 894.0h0M637.0 913.0h0M635.0 920.0h0M631.0 923.0h0M726.7 842.9h0M706.8 858.1h0M713.6 845.8h0M727.9 847.0h0M721.8 853.8h0M696.4 850.7h0M714.0 860.1h0M702.7 851.3h0M722.9 857.0h0M740.5 843.9h0M694.1 846.2h0M736.9 853.6h0M704.3 845.9h0M723.5 850.8h0M716.1 855.4h0M710.9 858.2h0M723.1 843.2h0M709.0 852.5h0M719.3 850.0h0M698.6 847.4h0M703.5 858.0h0M738.5 841.4h0M701.5 860.2h0M730.0 856.3h0M693.0 852.6h0M735.0 859.8h0M711.7 853.1h0M737.2 850.6h0M692.8 848.7h0M730.5 852.7h0M733.9 848.2h0M707.3 845.7h0M732.9 841.6h0M739.0 847.6h0M726.2 857.8h0M716.5 846.4h0M724.9 846.9h0M727.3 852.8h0M724.4 860.8h0M710.9 848.7h0M720.1 860.3h0M708.3 855.5h0M735.8 846.2h0M701.0 855.6h0M732.6 857.3h0M731.5 860.5h0M727.8 861.0h0M720.0 846.3h0M720.0 855.9h0M733.3 851.8h0M706.2 848.8h0M711.2 861.0h0M737.9 857.0h0M744.1 842.5h0M729.3 840.3h0M697.8 855.1h0M741.6 848.4h0M717.3 852.9h0M729.4 844.0h0M714.0 849.0h0M720.9 819.9h0M704.3 829.8h0M708.6 834.2h0M711.0 839.2h0M729.3 840.3h0M744.5 841.5h0M693.0 930.0h0M713.8 933.8h0M725.0 937.5h0M727.5 940.0h0M720.0 943.8h0M715.0 947.5h0M713.8 952.5h0M717.5 940.0h0M710.0 934.0h0M722.0 939.0h0M716.0 944.0h0M720.5 718.0h0M727.5 720.0h0M741.0 718.0h0M750.0 716.0h0M730.0 721.0h0M724.0 719.0h0M806.0 776.0h0M805.0 781.0h0M802.5 788.8h0M808.0 796.0h0M807.0 778.0h0M745.0 784.5h0M750.0 792.5h0M747.5 796.0h0M656.0 981.0h0M888.6 426.6h0M897.6 438.0h0M911.0 543.6h0M907.6 546.6h0M901.0 559.6h0M897.0 572.0h0M895.0 576.0h0M896.0 580.0h0M896.6 585.0h0M947.1 374.8h0M951.5 372.7h0M954.4 376.5h0M967.0 371.2h0M902.0 561.0h0M436.0 1046.0h0M542.0 318.0h0M547.0 315.0h0M551.0 311.0h0M541.0 320.0h0M554.0 309.0h0M718.0 936.0h0M724.0 941.0h0M712.0 938.0h0M721.0 946.0h0M717.0 950.0h0M714.0 955.0h0M709.0 935.0h0M726.0 937.0h0M672.0 720.0h0M676.0 716.0h0M674.0 726.0h0M670.0 724.0h0M677.0 728.0h0M673.0 711.0h0M666.0 716.0h0M608.0 787.0h0M612.0 790.0h0M609.0 783.0h0M656.0 983.0h0M769.7 223.2h0M785.7 243.4h0M756.3 225.4h0M788.3 233.6h0M792.5 226.6h0M752.7 238.6h0M805.5 238.0h0M761.8 235.6h0M772.9 234.7h0M777.7 230.3h0M748.4 227.6h0M768.5 228.7h0M761.6 227.4h0M757.1 231.9h0M779.0 242.0h0M786.4 222.5h0M782.4 235.9h0M800.5 235.1h0M765.7 245.8h0M799.7 241.8h0M793.7 238.1h0M770.6 240.1h0M761.2 241.4h0M781.1 249.4h0M815.3 227.8h0M815.9 223.6h0M827.9 220.5h0M814.8 216.1h0M825.1 214.8h0M811.6 221.8h0M829.6 216.2h0M823.1 224.4h0M822.4 219.0h0M818.9 216.5h0M810.7 218.6h0M820.3 213.4h0M817.3 219.4h0M819.8 223.1h0M712.0 228.4h0M707.4 206.4h0M693.4 209.6h0M694.8 223.6h0M719.1 228.7h0M722.2 208.4h0M707.8 219.7h0M717.6 216.9h0M702.7 228.2h0M701.2 215.4h0M714.4 205.8h0M820.0 286.5h0M835.2 291.8h0M834.8 280.6h0M838.9 291.8h0M828.5 298.1h0M824.2 296.8h0M830.9 292.0h0M828.9 277.7h0M820.8 291.3h0M822.0 278.5h0M828.7 289.3h0M828.0 284.3h0M837.8 288.6h0M822.5 283.4h0M825.6 277.2h0M821.3 294.7h0M829.8 280.7h0M834.8 285.9h0M834.0 299.2h0M824.9 289.9h0M824.3 286.3h0M818.6 281.7h0M831.2 284.8h0M837.5 284.7h0M824.3 293.8h0M836.3 295.8h0M832.3 288.3h0M398.0 389.9h0M401.8 394.5h0M390.9 424.8h0M383.2 409.1h0M392.6 415.6h0M386.4 409.9h0M391.1 418.4h0M390.1 397.2h0M382.0 393.5h0M381.8 417.2h0M384.2 398.8h0M387.1 404.1h0M393.9 401.8h0M394.1 425.4h0M388.1 394.8h0M393.0 432.7h0M387.3 389.0h0M393.4 387.7h0M399.3 426.2h0M385.4 392.0h0M391.4 403.9h0M398.3 386.3h0M389.9 391.4h0M401.2 388.7h0M393.3 411.9h0M395.6 422.2h0M398.5 404.6h0M381.1 404.1h0M394.4 429.0h0M401.6 432.9h0M387.2 424.1h0M380.6 413.3h0M393.0 406.5h0M379.3 408.1h0M380.2 398.4h0M387.3 399.9h0M389.2 414.6h0M395.8 396.0h0M383.7 422.0h0M396.6 414.5h0M396.6 434.7h0M398.5 431.3h0M399.1 398.3h0M395.3 417.8h0M389.4 406.2h0M386.6 419.7h0M394.3 390.8h0M391.2 385.1h0M474.5 855.9h0M470.0 860.5h0M475.3 861.4h0M448.0 847.9h0M465.8 861.7h0M453.3 842.1h0M470.7 865.0h0M462.3 853.5h0M452.6 847.8h0M466.6 850.4h0M460.7 842.4h0M466.7 855.6h0M460.6 849.8h0M457.3 845.8h0M446.6 838.9h0M445.4 844.3h0M469.8 848.3h0M460.7 858.1h0M300.0 862.0h0M318.0 867.0h0M335.0 866.0h0M352.0 866.0h0M370.0 864.0h0M290.0 845.0h0M287.0 830.0h0"/><path stroke="#9d77ec" d="M677.5 123.5h0M692.5 125.5h0M686.5 135.5h0M699.5 139.5h0M692.0 143.5h0M666.0 141.0h0M671.0 146.5h0M694.5 160.0h0M707.5 160.5h0M728.5 167.5h0M676.5 168.0h0M680.5 174.5h0M686.5 176.0h0M686.5 182.0h0M707.5 187.5h0M695.0 190.0h0M697.0 194.0h0M727.0 193.5h0M757.5 199.5h0M781.0 217.0h0M780.5 223.0h0M802.5 222.5h0M814.0 224.0h0M757.0 255.0h0M778.5 259.5h0M815.5 279.5h0M815.3 279.6h0M820.7 287.7h0M826.7 287.3h0M833.0 293.7h0M823.6 300.0h0M799.3 287.6h0M794.4 310.7h0M778.7 260.0h0M674.0 231.5h0M674.5 236.5h0M663.5 240.0h0M669.5 240.0h0M672.0 250.0h0M677.5 248.0h0M602.0 232.0h0M641.0 242.0h0M643.0 244.0h0M524.0 237.0h0M549.0 217.0h0M542.0 228.0h0M561.0 244.0h0M592.0 221.0h0M598.0 232.0h0M602.4 232.0h0M640.0 242.0h0M643.0 243.6h0M488.0 350.6h0M483.0 356.0h0M486.0 358.0h0M489.0 357.0h0M484.0 361.0h0M491.0 360.0h0M492.0 363.0h0M393.0 387.0h0M395.0 388.0h0M410.0 394.0h0M380.0 408.0h0M383.0 415.0h0M390.0 412.0h0M389.0 415.0h0M405.6 407.0h0M419.0 416.0h0M394.4 428.4h0M399.6 433.6h0M405.0 438.6h0M409.0 438.6h0M426.6 442.4h0M466.0 470.0h0M471.0 468.0h0M474.0 463.0h0M477.0 459.0h0M488.0 457.0h0M504.0 452.0h0M512.0 450.0h0M531.0 448.0h0M534.0 456.0h0M452.0 449.6h0M469.0 466.0h0M543.0 483.6h0M563.0 481.6h0M565.0 499.0h0M541.0 507.0h0M575.0 534.0h0M589.0 546.0h0M435.6 534.5h0M425.9 542.7h0M425.7 546.2h0M421.0 557.3h0M454.0 539.8h0M469.4 550.5h0M488.1 553.4h0M498.4 548.7h0M504.7 551.4h0M505.0 530.0h0M512.4 527.5h0M520.8 555.5h0M485.8 559.6h0M452.9 563.3h0M455.1 570.4h0M442.6 571.3h0M428.0 567.2h0M436.8 575.9h0M430.9 579.2h0M430.1 584.7h0M437.3 588.8h0M470.4 568.7h0M480.5 571.8h0M503.5 568.0h0M511.7 567.8h0M496.8 575.9h0M495.7 578.8h0M505.0 574.8h0M506.8 577.7h0M472.6 589.9h0M481.7 589.3h0M488.4 588.2h0M594.5 385.0h0M604.0 381.0h0M604.0 386.0h0M603.0 390.0h0M589.0 391.0h0M610.0 392.0h0M595.0 397.0h0M598.0 395.0h0M600.0 399.0h0M601.0 402.0h0M588.0 402.0h0M595.0 404.0h0M595.0 407.0h0M606.0 402.0h0M611.0 403.0h0M612.0 406.0h0M614.0 402.0h0M620.0 401.0h0M612.0 409.0h0M614.0 412.0h0M613.0 414.0h0M617.0 417.0h0M627.0 407.0h0M630.0 411.0h0M593.0 420.0h0M600.0 421.5h0M608.0 421.5h0M601.0 430.0h0M603.0 428.0h0M606.0 426.0h0M608.0 427.0h0M602.0 432.0h0M608.0 434.0h0M621.0 425.0h0M633.0 423.0h0M637.0 427.0h0M644.0 432.0h0M651.0 432.0h0M656.0 434.0h0M634.5 436.0h0M639.0 441.0h0M570.0 440.0h0M602.0 442.0h0M604.0 444.0h0M609.0 445.0h0M611.0 447.0h0M614.0 447.0h0M618.0 443.0h0M619.0 446.0h0M624.0 440.0h0M624.0 444.0h0M610.0 450.0h0M594.0 450.0h0M594.0 454.0h0M583.0 455.0h0M587.0 456.0h0M575.0 463.5h0M590.0 463.0h0M599.5 461.5h0M602.0 467.0h0M611.0 467.0h0M614.5 457.0h0M631.0 461.0h0M643.0 460.5h0M649.0 444.5h0M646.0 449.5h0M653.5 459.0h0M656.0 462.5h0M668.0 426.0h0M667.0 431.0h0M671.0 436.0h0M666.0 434.0h0M684.0 428.0h0M687.0 425.0h0M689.0 424.0h0M681.0 434.0h0M680.0 437.0h0M689.0 432.0h0M675.5 442.0h0M681.0 447.0h0M680.0 451.0h0M692.0 453.0h0M688.0 458.0h0M673.0 454.0h0M668.0 455.0h0M658.5 449.0h0M652.0 433.0h0M655.5 434.0h0M698.5 429.0h0M699.0 435.0h0M714.5 439.0h0M699.0 448.5h0M705.0 449.0h0M710.5 457.0h0M702.0 461.0h0M707.0 461.5h0M712.0 457.0h0M721.0 456.0h0M719.0 464.0h0M721.0 458.0h0M698.5 472.0h0M689.0 470.0h0M601.0 429.0h0M608.0 434.0h0M593.0 421.0h0M601.0 422.0h0M190.8 559.1h0M208.5 508.9h0M218.7 521.0h0M201.4 522.2h0M195.5 565.6h0M186.1 551.3h0M189.3 536.0h0M151.3 554.4h0M165.1 555.0h0M161.8 539.7h0M200.9 534.0h0M153.8 542.3h0M170.5 531.3h0M186.5 525.6h0M199.5 501.0h0M213.0 506.6h0M206.6 511.5h0M219.1 513.5h0M206.9 515.9h0M218.0 505.6h0M223.3 513.2h0M203.8 506.7h0M211.8 517.3h0M186.0 503.0h0M192.0 503.0h0M196.0 505.0h0M191.0 514.0h0M193.0 513.0h0M200.0 512.0h0M206.0 510.0h0M210.0 510.0h0M214.0 510.0h0M218.0 510.0h0M220.0 509.0h0M206.0 516.0h0M212.0 516.0h0M218.0 515.0h0M222.0 513.0h0M178.0 517.0h0M183.0 517.0h0M172.0 519.0h0M165.0 521.0h0M178.0 523.0h0M174.0 528.0h0M177.0 532.0h0M185.0 521.0h0M193.0 527.0h0M195.0 523.0h0M206.0 523.0h0M209.0 521.0h0M212.0 523.0h0M218.0 522.0h0M194.0 524.0h0M166.0 526.0h0M159.0 528.0h0M166.0 529.0h0M162.0 533.0h0M168.0 538.0h0M156.0 537.0h0M172.0 538.0h0M179.0 535.0h0M178.0 540.0h0M181.0 539.0h0M180.0 544.0h0M186.0 544.0h0M187.0 549.0h0M186.0 541.0h0M173.0 547.0h0M176.0 545.0h0M170.0 550.0h0M155.0 537.0h0M148.0 546.0h0M151.0 549.0h0M157.0 544.0h0M153.0 553.0h0M154.0 553.0h0M162.0 552.0h0M159.0 555.0h0M165.0 555.0h0M167.0 560.0h0M171.0 563.0h0M174.0 565.0h0M177.0 556.0h0M178.0 560.0h0M180.0 555.0h0M186.0 557.0h0M191.0 558.0h0M184.0 550.0h0M193.0 560.0h0M199.0 556.0h0M198.0 565.0h0M200.0 568.0h0M195.0 575.0h0M184.0 568.0h0M189.0 568.0h0M204.0 568.0h0M210.0 537.0h0M210.0 541.0h0M211.0 529.0h0M200.0 529.0h0M220.0 541.0h0M226.5 550.0h0M233.5 559.0h0M238.0 567.0h0M225.5 575.0h0M223.0 580.5h0M238.0 510.0h0M254.0 491.5h0M199.0 548.0h0M199.0 561.0h0M257.0 489.0h0M731.7 598.5h0M745.0 539.3h0M749.6 543.0h0M750.5 546.7h0M749.1 571.4h0M784.9 566.8h0M969.0 681.4h0M960.6 664.7h0M1014.4 653.9h0M912.0 711.7h0M1036.8 658.9h0M1031.0 637.9h0M924.1 778.0h0M899.2 717.4h0M1008.9 761.7h0M1036.2 686.2h0M928.6 781.0h0M992.3 684.1h0M956.1 674.0h0M1060.7 663.9h0M1023.6 660.7h0M951.1 702.8h0M962.2 657.8h0M948.1 679.9h0M998.6 662.3h0M1028.5 749.8h0M919.6 727.4h0M1000.4 646.2h0M967.2 747.6h0M1009.8 663.5h0M1051.6 667.0h0M1005.1 773.7h0M980.8 690.8h0M999.2 657.1h0M979.3 776.8h0M997.3 742.2h0M979.0 702.0h0M921.2 751.8h0M1012.1 702.2h0M965.2 782.1h0M1028.4 653.6h0M949.1 768.3h0M971.6 673.7h0M1010.4 631.7h0M937.4 759.9h0M1001.3 716.2h0M1021.5 640.6h0M1027.1 724.8h0M1031.3 677.0h0M1044.4 640.5h0M1000.1 676.2h0M959.8 708.7h0M974.6 758.0h0M975.0 653.9h0M937.6 776.8h0M906.2 728.0h0M914.5 723.0h0M974.0 750.1h0M1026.5 693.2h0M969.5 656.7h0M938.8 746.8h0M956.8 748.4h0M1010.9 666.7h0M1036.2 662.9h0M1025.9 747.0h0M900.8 709.3h0M1052.2 707.0h0M963.9 732.4h0M993.5 669.5h0M938.9 701.4h0M952.2 749.1h0M977.1 685.9h0M973.2 697.7h0M963.4 764.7h0M992.4 695.8h0M999.3 773.9h0M1022.6 716.7h0M1044.1 728.9h0M949.9 755.6h0M916.1 726.0h0M1005.1 763.9h0M906.6 709.5h0M996.6 696.0h0M977.1 718.2h0M972.4 704.8h0M901.5 724.6h0M937.7 681.4h0M1049.8 660.0h0M1015.6 636.4h0M972.5 762.3h0M919.0 758.0h0M1009.4 639.3h0M953.6 688.1h0M928.3 728.7h0M1005.4 687.0h0M1038.9 693.6h0M904.7 707.4h0M1055.5 702.2h0M979.2 664.3h0M1032.3 697.9h0M994.9 655.6h0M943.9 772.8h0M1031.3 748.6h0M1046.7 667.3h0M991.4 744.2h0M980.4 729.3h0M1011.6 735.3h0M1034.2 705.8h0M936.3 680.6h0M611.5 654.5h0M611.0 658.5h0M619.5 660.5h0M623.0 658.5h0M627.0 655.5h0M627.0 651.0h0M632.0 665.0h0M632.0 667.0h0M607.0 665.5h0M615.5 667.0h0M595.5 674.0h0M602.0 675.5h0M620.0 675.5h0M646.0 657.0h0M649.0 656.5h0M649.0 673.5h0M646.0 676.0h0M641.5 680.0h0M607.5 689.0h0M612.5 695.5h0M620.0 700.0h0M631.5 694.0h0M632.0 700.5h0M641.0 702.5h0M654.0 706.5h0M670.5 714.0h0M677.0 734.0h0M318.8 788.0h0M368.5 820.4h0M324.3 819.7h0M376.0 764.2h0M301.7 822.8h0M329.0 812.8h0M318.2 855.5h0M337.6 725.8h0M338.0 837.4h0M326.2 734.4h0M304.1 837.2h0M352.1 794.4h0M327.4 768.3h0M329.3 818.3h0M374.4 827.6h0M364.0 794.7h0M344.8 801.9h0M355.8 797.8h0M397.1 825.7h0M378.0 839.1h0M304.9 840.3h0M378.5 819.3h0M325.4 807.0h0M336.9 751.0h0M351.7 741.5h0M395.1 797.9h0M393.6 812.7h0M358.1 803.4h0M327.3 856.5h0M368.1 805.6h0M356.3 834.0h0M364.6 852.4h0M352.9 731.9h0M296.0 823.8h0M381.5 805.9h0M305.6 827.1h0M310.0 844.2h0M340.5 764.7h0M343.8 784.5h0M362.8 762.9h0M373.2 823.0h0M346.9 847.7h0M352.6 850.1h0M388.9 821.7h0M346.8 775.8h0M351.1 718.9h0M378.5 832.4h0M380.1 844.0h0M345.8 754.8h0M356.0 758.1h0M383.7 811.4h0M298.3 841.0h0M308.9 821.8h0M386.0 823.4h0M340.7 789.8h0M384.5 802.9h0M357.6 851.3h0M306.0 850.7h0M330.5 805.6h0M336.0 802.2h0M307.6 836.5h0M369.1 842.8h0M323.3 759.8h0M327.6 802.9h0M318.6 782.5h0M340.6 813.9h0M322.6 839.8h0M333.0 848.3h0M349.0 815.1h0M327.4 825.9h0M392.5 840.2h0M354.3 807.7h0M304.9 859.4h0M338.1 827.6h0M394.0 828.2h0M370.2 828.4h0M344.0 736.1h0M316.4 772.9h0M320.2 824.5h0M322.9 739.1h0M321.4 784.9h0M360.3 723.9h0M333.9 723.9h0M342.7 855.9h0M354.1 803.7h0M372.6 781.1h0M376.5 845.4h0M323.4 832.7h0M341.4 803.7h0M298.1 811.2h0M335.2 856.8h0M358.7 728.9h0M319.3 773.9h0M308.1 796.4h0M307.3 791.6h0M355.7 848.7h0M363.8 719.1h0M347.7 760.3h0M329.6 797.2h0M344.2 788.6h0M337.9 739.9h0M332.6 784.0h0M417.8 816.6h0M323.7 862.0h0M375.6 803.4h0M331.3 769.9h0M391.4 819.7h0M341.4 810.5h0M370.9 808.2h0M346.7 745.0h0M354.4 820.8h0M372.3 759.7h0M392.9 801.2h0M380.5 786.7h0M397.4 807.3h0M352.2 840.9h0M322.5 763.2h0M297.9 849.1h0M343.5 723.3h0M315.5 798.4h0M353.7 744.8h0M339.1 854.2h0M328.9 808.9h0M354.7 762.0h0M327.5 787.6h0M357.2 790.6h0M339.0 748.5h0M332.3 814.2h0M335.5 816.0h0M325.7 779.1h0M339.2 841.8h0M405.6 825.8h0M371.5 839.9h0M323.8 789.0h0M342.9 729.1h0M373.2 733.0h0M394.7 785.1h0M485.3 867.5h0M498.2 873.7h0M494.4 872.1h0M507.1 880.5h0M491.9 876.3h0M489.1 865.7h0M504.6 886.1h0M507.8 886.4h0M485.7 876.4h0M512.5 875.6h0M504.2 871.4h0M487.8 869.1h0M487.6 881.0h0M510.5 882.0h0M483.9 870.1h0M500.9 877.6h0M490.0 883.2h0M501.1 883.3h0M403.0 815.0h0M410.5 814.5h0M415.8 812.8h0M422.2 819.2h0M426.8 825.0h0M432.0 827.3h0M443.8 833.8h0M442.6 839.0h0M452.5 840.2h0M457.2 844.3h0M477.6 848.3h0M468.3 858.8h0M477.6 869.3h0M483.4 876.3h0M497.4 893.8h0M525.0 909.8h0M508.0 917.3h0M509.0 923.3h0M519.8 982.9h0M523.1 989.4h0M531.2 989.4h0M524.2 995.3h0M534.5 1000.8h0M530.1 1003.5h0M520.4 1010.5h0M520.4 1017.5h0M516.0 1018.6h0M558.3 771.0h0M555.0 774.5h0M558.5 781.0h0M558.8 784.0h0M565.0 779.5h0M554.5 790.0h0M553.8 795.8h0M624.0 890.0h0M636.0 903.0h0M627.5 925.8h0M694.3 851.4h0M697.5 854.3h0M700.8 852.0h0M703.7 853.8h0M707.2 857.3h0M704.8 848.0h0M706.9 843.5h0M715.6 849.7h0M715.9 853.2h0M713.6 860.2h0M718.3 858.4h0M722.9 857.8h0M724.7 859.6h0M731.7 855.0h0M731.1 859.6h0M736.3 850.3h0M739.8 850.3h0M723.2 843.3h0M739.8 838.0h0M727.0 857.0h0M710.0 856.0h0M705.5 935.0h0M735.0 717.5h0M739.0 716.0h0M807.5 793.8h0M658.8 983.8h0M899.0 563.0h0M903.0 563.0h0M442.2 1041.2h0M545.0 313.0h0M549.0 313.0h0M553.0 310.0h0M474.2 851.4h0M452.5 853.5h0M465.2 845.4h0M448.7 842.1h0M610.0 395.0h0M613.0 397.0h0M616.0 405.0h0M611.0 412.0h0M609.0 416.0h0M603.0 395.0h0M606.0 397.0h0M597.0 390.0h0M600.0 386.0h0M592.0 399.0h0M596.0 412.0h0M608.0 425.0h0M605.0 431.0h0M598.0 428.0h0"/><path stroke="#673df8" d="M759.0 206.0h0M750.0 213.5h0M806.5 228.0h0M797.0 232.0h0M704.5 227.8h0M547.0 224.0h0M552.0 224.0h0M431.7 570.1h0M615.5 389.0h0M610.0 397.0h0M612.5 439.0h0M697.0 439.0h0M708.0 442.0h0M702.5 448.0h0M719.5 448.0h0M715.0 462.0h0M691.0 466.0h0M706.0 467.0h0M709.0 475.0h0M719.0 465.0h0M724.0 467.0h0M703.0 475.5h0M201.0 521.0h0M182.0 530.0h0M157.0 544.0h0M242.0 572.0h0M713.4 584.3h0M752.3 594.3h0M759.0 597.0h0M749.6 605.3h0M993.2 709.5h0M964.5 728.2h0M1063.8 664.1h0M911.4 723.6h0M1015.0 650.6h0M995.8 713.9h0M1005.9 660.0h0M1017.9 720.7h0M1037.5 673.3h0M1031.4 693.0h0M972.1 741.2h0M1024.1 694.6h0M1029.8 649.4h0M955.4 739.1h0M968.3 761.9h0M1010.3 731.1h0M917.9 755.5h0M989.7 686.7h0M962.9 741.7h0M985.7 730.3h0M1034.4 738.3h0M998.3 690.4h0M976.3 657.1h0M972.5 731.3h0M995.8 693.3h0M1000.9 684.3h0M947.9 694.9h0M602.5 650.5h0M607.0 652.5h0M615.0 661.5h0M657.5 689.0h0M607.5 692.0h0M629.0 695.5h0M331.8 725.0h0M380.6 730.5h0M360.0 783.2h0M326.7 795.4h0M378.4 779.6h0M403.0 792.8h0M347.6 836.7h0M432.4 824.0h0M433.8 839.8h0M553.5 778.5h0M568.8 780.8h0M614.5 861.8h0M636.0 915.0h0M437.5 1044.8h0M539.0 323.0h0"/><path stroke="#0000ff" d="M825.0 284.0h0M825.3 285.0h0M704.0 443.0h0M974.7 744.2h0M944.7 764.2h0"/></g>
<text transform="translate(604.5,37) scale(0.94,1)" font-size="35.5" font-weight="bold" text-anchor="middle">Bckdha</text>
<g font-size="31" text-anchor="middle">
<text x="141.5" y="1148">-&#x2007;5</text>
<text x="307.5" y="1148">-&#x2007;0</text>
<text x="472.5" y="1148">-5</text>
<text x="638.5" y="1148">0</text>
<text x="804.2" y="1148">5</text>
<text x="969.9" y="1148">&#x2007;0</text>
</g>
<g font-size="31" text-anchor="end">
<text x="88" y="288">&#x2007;0</text>
<text x="88" y="582">0</text>
<text x="88" y="876">-&#x2007;0</text>
</g>
<text x="604" y="1181" font-size="29.6" text-anchor="middle">umapNC_&#x2007;</text>
<text transform="translate(34,662.7) rotate(-90)" font-size="30.4">umapNC_2</text>
<g font-size="25.5">
<text x="1153" y="579">&#x2007;.0</text>
<text x="1153" y="606">0.5</text>
<text x="1153" y="634">0.0</text>
</g>
<rect x="1130.2" y="547.7" width="15.2" height="76" fill="url(#lg)"/>
<path d="M1130.2 569.2h3M1142.4 569.2h3M1130.2 596.4h3M1142.4 596.4h3" stroke="#fff" stroke-width="1.2"/>
<path d="M140.50 1147.90V1126.25H138.00C137.60 1128.25 136.00 1130.00 132.90 1130.00V1132.80H137.60V1147.90ZM306.80 1147.80V1126.25H304.30C303.90 1128.25 302.30 1130.00 299.20 1130.00V1132.60H303.90V1147.80ZM963.50 1147.80V1126.25H961.00C960.60 1128.25 959.00 1130.00 956.00 1130.00V1132.60H960.60V1147.80ZM65.55 287.80V266.00H63.05C62.65 268.00 61.05 270.00 58.00 270.00V272.60H62.65V287.80ZM65.55 875.80V854.00H63.05C62.65 856.00 61.05 858.00 58.00 858.00V860.60H62.65V875.80ZM676.65 1180.80V1159.20H674.25C673.85 1161.20 672.25 1162.80 669.00 1162.80V1165.50H673.85V1180.80ZM1161.85 579.00V560.00H1159.85C1159.45 562.00 1157.85 563.75 1155.40 563.75V566.00H1159.45V579.00Z" fill="#000"/>
<path d="M95.45 51V1119.5H1118" fill="none" stroke="#000" stroke-width="3"/>
<path d="M141.6 1121v3.6M306 1121v3.6M472.5 1121v3.6M638.5 1121v3.6M804.2 1121v3.6M969.9 1121v3.6M94 277.5h-3.7M94 571h-3.7M94 865.5h-3.7" stroke="#000" stroke-width="2.8"/>
</svg>
</body></html>
